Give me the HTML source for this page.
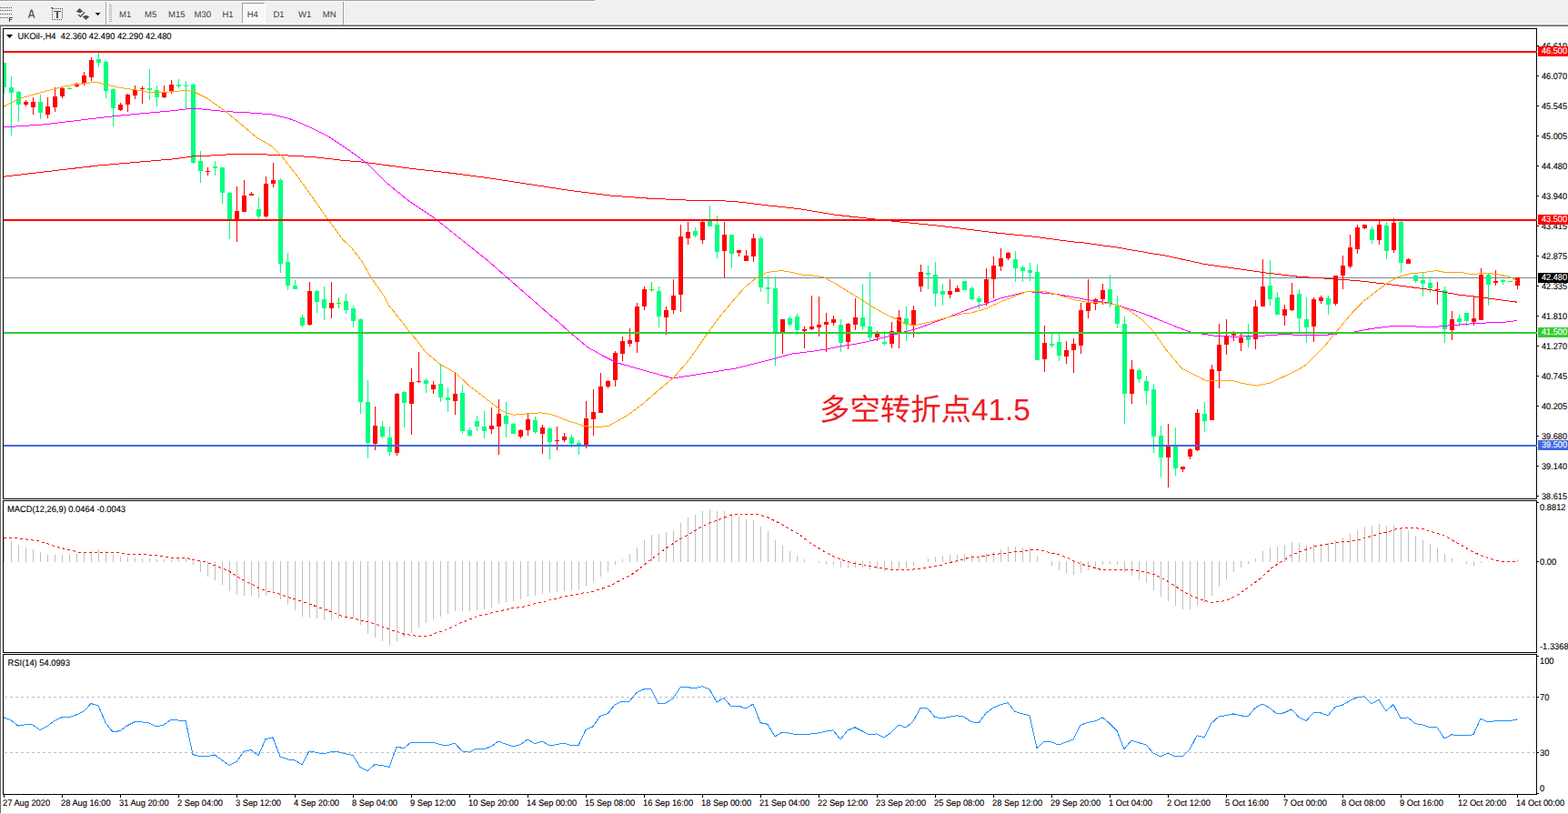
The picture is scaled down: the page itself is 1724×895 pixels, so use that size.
<!DOCTYPE html><html><head><meta charset="utf-8"><title>UKOil H4</title><style>html,body{margin:0;padding:0;background:#fff;font-family:"Liberation Sans",sans-serif}body{width:1724px;height:895px;overflow:hidden}</style></head><body><svg width="1724" height="895" viewBox="0 0 1724 895" shape-rendering="crispEdges" text-rendering="geometricPrecision" font-family="'Liberation Sans', sans-serif" style="display:block"><rect x="0" y="0" width="1724" height="895" fill="#ffffff"/>
<rect x="0" y="0" width="1724" height="27" fill="#f0f0f0"/>
<rect x="0" y="0" width="654" height="1" fill="#a0a0a0"/>
<rect x="0" y="1" width="655" height="1" fill="#ffffff"/>
<rect x="0" y="26" width="1724" height="1" fill="#f6f6f6"/>
<rect x="0" y="27" width="1724" height="1" fill="#a0a0a0"/>
<rect x="0" y="28" width="1724" height="1" fill="#696969"/>
<rect x="0" y="28" width="1" height="866" fill="#696969"/>
<rect x="0" y="894" width="1724" height="1" fill="#e8e8e8"/>
<rect x="0" y="8" width="1" height="1" fill="#4a4a4a"/>
<rect x="2" y="8" width="1" height="1" fill="#4a4a4a"/>
<rect x="4" y="8" width="1" height="1" fill="#4a4a4a"/>
<rect x="6" y="8" width="1" height="1" fill="#4a4a4a"/>
<rect x="8" y="8" width="1" height="1" fill="#4a4a4a"/>
<rect x="10" y="8" width="1" height="1" fill="#4a4a4a"/>
<rect x="12" y="8" width="1" height="1" fill="#4a4a4a"/>
<rect x="0" y="11" width="1" height="1" fill="#4a4a4a"/>
<rect x="2" y="11" width="1" height="1" fill="#4a4a4a"/>
<rect x="4" y="11" width="1" height="1" fill="#4a4a4a"/>
<rect x="6" y="11" width="1" height="1" fill="#4a4a4a"/>
<rect x="8" y="11" width="1" height="1" fill="#4a4a4a"/>
<rect x="10" y="11" width="1" height="1" fill="#4a4a4a"/>
<rect x="12" y="11" width="1" height="1" fill="#4a4a4a"/>
<rect x="0" y="15" width="1" height="1" fill="#4a4a4a"/>
<rect x="2" y="15" width="1" height="1" fill="#4a4a4a"/>
<rect x="4" y="15" width="1" height="1" fill="#4a4a4a"/>
<rect x="6" y="15" width="1" height="1" fill="#4a4a4a"/>
<rect x="8" y="15" width="1" height="1" fill="#4a4a4a"/>
<rect x="10" y="15" width="1" height="1" fill="#4a4a4a"/>
<rect x="12" y="15" width="1" height="1" fill="#4a4a4a"/>
<rect x="0" y="19" width="1" height="1" fill="#4a4a4a"/>
<rect x="2" y="19" width="1" height="1" fill="#4a4a4a"/>
<rect x="4" y="19" width="1" height="1" fill="#4a4a4a"/>
<rect x="6" y="19" width="1" height="1" fill="#4a4a4a"/>
<rect x="8" y="19" width="1" height="1" fill="#4a4a4a"/>
<rect x="10" y="19" width="1" height="5" fill="#4a4a4a"/>
<rect x="10" y="19" width="4" height="1" fill="#4a4a4a"/>
<rect x="10" y="21" width="3" height="1" fill="#4a4a4a"/>
<path d="M31.5 19.9 L34.3 11.2 L35.1 11.2 L37.9 19.9 M32.6 17 L36.8 17" fill="none" stroke="#555" stroke-width="1.35" stroke-linejoin="miter" shape-rendering="geometricPrecision"/>
<rect x="60" y="9" width="1" height="1" fill="#4a4a4a"/>
<rect x="62" y="9" width="1" height="1" fill="#4a4a4a"/>
<rect x="64" y="9" width="1" height="1" fill="#4a4a4a"/>
<rect x="66" y="9" width="1" height="1" fill="#4a4a4a"/>
<rect x="68" y="9" width="1" height="1" fill="#4a4a4a"/>
<rect x="57" y="21" width="1" height="1" fill="#4a4a4a"/>
<rect x="59" y="21" width="1" height="1" fill="#4a4a4a"/>
<rect x="61" y="21" width="1" height="1" fill="#4a4a4a"/>
<rect x="63" y="21" width="1" height="1" fill="#4a4a4a"/>
<rect x="65" y="21" width="1" height="1" fill="#4a4a4a"/>
<rect x="67" y="21" width="1" height="1" fill="#4a4a4a"/>
<rect x="57" y="11" width="1" height="1" fill="#4a4a4a"/>
<rect x="68" y="11" width="1" height="1" fill="#4a4a4a"/>
<rect x="57" y="13" width="1" height="1" fill="#4a4a4a"/>
<rect x="68" y="13" width="1" height="1" fill="#4a4a4a"/>
<rect x="57" y="15" width="1" height="1" fill="#4a4a4a"/>
<rect x="68" y="15" width="1" height="1" fill="#4a4a4a"/>
<rect x="57" y="17" width="1" height="1" fill="#4a4a4a"/>
<rect x="68" y="17" width="1" height="1" fill="#4a4a4a"/>
<rect x="57" y="19" width="1" height="1" fill="#4a4a4a"/>
<rect x="68" y="19" width="1" height="1" fill="#4a4a4a"/>
<rect x="56" y="8" width="2" height="1" fill="#4a4a4a"/>
<rect x="57" y="9" width="2" height="1" fill="#4a4a4a"/>
<rect x="59" y="12" width="8" height="1" fill="#505050"/>
<rect x="62" y="12" width="2" height="8" fill="#505050"/>
<path d="M87.5 9 L91.5 13 L89.5 13 L89.5 14 L85.5 14 L85.5 13 L83.5 13 Z" fill="#505050" shape-rendering="geometricPrecision"/>
<path d="M94.5 22 L98.5 18 L96.5 18 L96.5 17 L92.5 17 L92.5 18 L90.5 18 Z" fill="#505050" shape-rendering="geometricPrecision"/>
<path d="M86 16 L88.5 18.3 L93 13.5" fill="none" stroke="#505050" stroke-width="1.3" shape-rendering="geometricPrecision"/>
<rect x="105" y="14" width="5" height="1" fill="#000"/>
<rect x="106" y="15" width="3" height="1" fill="#000"/>
<rect x="107" y="16" width="1" height="1" fill="#000"/>
<rect x="116" y="2" width="1" height="25" fill="#a0a0a0"/>
<rect x="117" y="2" width="1" height="25" fill="#ffffff"/>
<rect x="120" y="5" width="3" height="1" fill="#b4b4b4"/>
<rect x="120" y="7" width="3" height="1" fill="#b4b4b4"/>
<rect x="120" y="9" width="3" height="1" fill="#b4b4b4"/>
<rect x="120" y="11" width="3" height="1" fill="#b4b4b4"/>
<rect x="120" y="13" width="3" height="1" fill="#b4b4b4"/>
<rect x="120" y="15" width="3" height="1" fill="#b4b4b4"/>
<rect x="120" y="17" width="3" height="1" fill="#b4b4b4"/>
<rect x="120" y="19" width="3" height="1" fill="#b4b4b4"/>
<rect x="120" y="21" width="3" height="1" fill="#b4b4b4"/>
<rect x="120" y="23" width="3" height="1" fill="#b4b4b4"/>
<rect x="377" y="2" width="1" height="25" fill="#a0a0a0"/>
<rect x="378" y="2" width="1" height="25" fill="#ffffff"/>
<rect x="266" y="3" width="26" height="22" fill="#f8f8f8"/>
<rect x="266" y="3" width="25" height="1" fill="#a0a0a0"/>
<rect x="266" y="3" width="1" height="22" fill="#a0a0a0"/>
<rect x="291" y="3" width="1" height="23" fill="#ffffff"/>
<rect x="266" y="25" width="26" height="1" fill="#ffffff"/>
<text transform="translate(131,19) scale(1.0000,1)" fill="#3c3c3c" stroke="#3c3c3c" stroke-width="0" font-size="9.5" text-anchor="start" >M1</text>
<text transform="translate(159,19) scale(1.0000,1)" fill="#3c3c3c" stroke="#3c3c3c" stroke-width="0" font-size="9.5" text-anchor="start" >M5</text>
<text transform="translate(185,19) scale(1.0000,1)" fill="#3c3c3c" stroke="#3c3c3c" stroke-width="0" font-size="9.5" text-anchor="start" >M15</text>
<text transform="translate(213.5,19) scale(1.0000,1)" fill="#3c3c3c" stroke="#3c3c3c" stroke-width="0" font-size="9.5" text-anchor="start" >M30</text>
<text transform="translate(244.5,19) scale(1.0000,1)" fill="#3c3c3c" stroke="#3c3c3c" stroke-width="0" font-size="9.5" text-anchor="start" >H1</text>
<text transform="translate(271.7,19) scale(1.0000,1)" fill="#3c3c3c" stroke="#3c3c3c" stroke-width="0" font-size="9.5" text-anchor="start" >H4</text>
<text transform="translate(300.5,19) scale(1.0000,1)" fill="#3c3c3c" stroke="#3c3c3c" stroke-width="0" font-size="9.5" text-anchor="start" >D1</text>
<text transform="translate(328,19) scale(1.0000,1)" fill="#3c3c3c" stroke="#3c3c3c" stroke-width="0" font-size="9.5" text-anchor="start" >W1</text>
<text transform="translate(354.8,19) scale(1.0000,1)" fill="#3c3c3c" stroke="#3c3c3c" stroke-width="0" font-size="9.5" text-anchor="start" >MN</text>
<clipPath id="cm"><rect x="4" y="32" width="1685" height="516"/></clipPath>
<g clip-path="url(#cm)">
<rect x="4" y="305" width="1686" height="1" fill="#778899"/>
<rect x="4" y="69" width="1" height="34" fill="#00ff7f"/>
<rect x="2" y="69" width="5" height="27" fill="#00ff7f"/>
<rect x="12" y="84" width="1" height="65" fill="#00ff7f"/>
<rect x="10" y="96" width="5" height="6" fill="#00ff7f"/>
<rect x="20" y="100" width="1" height="34" fill="#00ff7f"/>
<rect x="18" y="101" width="5" height="14" fill="#00ff7f"/>
<rect x="28" y="110" width="1" height="7" fill="#ff0000"/>
<rect x="26" y="112" width="5" height="3" fill="#ff0000"/>
<rect x="36" y="107" width="1" height="19" fill="#ff0000"/>
<rect x="34" y="112" width="5" height="6" fill="#ff0000"/>
<rect x="44" y="104" width="1" height="27" fill="#00ff7f"/>
<rect x="42" y="112" width="5" height="12" fill="#00ff7f"/>
<rect x="52" y="107" width="1" height="23" fill="#ff0000"/>
<rect x="50" y="117" width="5" height="9" fill="#ff0000"/>
<rect x="60" y="96" width="1" height="27" fill="#ff0000"/>
<rect x="58" y="106" width="5" height="12" fill="#ff0000"/>
<rect x="68" y="96" width="1" height="12" fill="#ff0000"/>
<rect x="66" y="97" width="5" height="9" fill="#ff0000"/>
<rect x="76" y="96" width="1" height="2" fill="#00ff00"/>
<rect x="74" y="97" width="5" height="1" fill="#00ff00"/>
<rect x="84" y="91" width="1" height="5" fill="#ff0000"/>
<rect x="82" y="92" width="5" height="3" fill="#ff0000"/>
<rect x="92" y="79" width="1" height="15" fill="#ff0000"/>
<rect x="90" y="83" width="5" height="9" fill="#ff0000"/>
<rect x="100" y="63" width="1" height="26" fill="#ff0000"/>
<rect x="98" y="66" width="5" height="19" fill="#ff0000"/>
<rect x="108" y="58" width="1" height="16" fill="#00ff7f"/>
<rect x="106" y="65" width="5" height="4" fill="#00ff7f"/>
<rect x="116" y="67" width="1" height="41" fill="#00ff7f"/>
<rect x="114" y="68" width="5" height="32" fill="#00ff7f"/>
<rect x="124" y="97" width="1" height="42" fill="#00ff7f"/>
<rect x="122" y="98" width="5" height="21" fill="#00ff7f"/>
<rect x="132" y="113" width="1" height="9" fill="#ff0000"/>
<rect x="130" y="115" width="5" height="6" fill="#ff0000"/>
<rect x="140" y="103" width="1" height="20" fill="#ff0000"/>
<rect x="138" y="104" width="5" height="11" fill="#ff0000"/>
<rect x="148" y="94" width="1" height="15" fill="#ff0000"/>
<rect x="146" y="99" width="5" height="6" fill="#ff0000"/>
<rect x="156" y="95" width="1" height="19" fill="#ff0000"/>
<rect x="154" y="97" width="5" height="1" fill="#ff0000"/>
<rect x="164" y="76" width="1" height="34" fill="#00ff7f"/>
<rect x="162" y="97" width="5" height="2" fill="#00ff7f"/>
<rect x="172" y="94" width="1" height="23" fill="#00ff7f"/>
<rect x="170" y="99" width="5" height="8" fill="#00ff7f"/>
<rect x="180" y="94" width="1" height="14" fill="#ff0000"/>
<rect x="178" y="102" width="5" height="5" fill="#ff0000"/>
<rect x="188" y="88" width="1" height="15" fill="#ff0000"/>
<rect x="186" y="93" width="5" height="8" fill="#ff0000"/>
<rect x="196" y="87" width="1" height="10" fill="#00ff7f"/>
<rect x="194" y="93" width="5" height="2" fill="#00ff7f"/>
<rect x="204" y="89" width="1" height="30" fill="#00ff7f"/>
<rect x="202" y="94" width="5" height="1" fill="#00ff7f"/>
<rect x="212" y="92" width="1" height="88" fill="#00ff7f"/>
<rect x="210" y="93" width="5" height="86" fill="#00ff7f"/>
<rect x="220" y="166" width="1" height="35" fill="#00ff7f"/>
<rect x="218" y="177" width="5" height="11" fill="#00ff7f"/>
<rect x="228" y="184" width="1" height="9" fill="#ff0000"/>
<rect x="226" y="188" width="5" height="1" fill="#ff0000"/>
<rect x="236" y="177" width="1" height="16" fill="#00ff7f"/>
<rect x="234" y="183" width="5" height="2" fill="#00ff7f"/>
<rect x="244" y="184" width="1" height="40" fill="#00ff7f"/>
<rect x="242" y="184" width="5" height="28" fill="#00ff7f"/>
<rect x="252" y="211" width="1" height="52" fill="#00ff7f"/>
<rect x="250" y="212" width="5" height="29" fill="#00ff7f"/>
<rect x="260" y="205" width="1" height="61" fill="#ff0000"/>
<rect x="258" y="232" width="5" height="10" fill="#ff0000"/>
<rect x="268" y="198" width="1" height="35" fill="#ff0000"/>
<rect x="266" y="215" width="5" height="18" fill="#ff0000"/>
<rect x="276" y="211" width="1" height="4" fill="#ff0000"/>
<rect x="274" y="213" width="5" height="2" fill="#ff0000"/>
<rect x="284" y="217" width="1" height="24" fill="#00ff7f"/>
<rect x="282" y="230" width="5" height="8" fill="#00ff7f"/>
<rect x="292" y="194" width="1" height="45" fill="#ff0000"/>
<rect x="290" y="202" width="5" height="36" fill="#ff0000"/>
<rect x="300" y="179" width="1" height="27" fill="#ff0000"/>
<rect x="298" y="198" width="5" height="4" fill="#ff0000"/>
<rect x="308" y="196" width="1" height="104" fill="#00ff7f"/>
<rect x="306" y="198" width="5" height="92" fill="#00ff7f"/>
<rect x="316" y="278" width="1" height="41" fill="#00ff7f"/>
<rect x="314" y="288" width="5" height="26" fill="#00ff7f"/>
<rect x="324" y="308" width="1" height="10" fill="#00ff7f"/>
<rect x="322" y="314" width="5" height="4" fill="#00ff7f"/>
<rect x="332" y="346" width="1" height="14" fill="#00ff7f"/>
<rect x="330" y="349" width="5" height="9" fill="#00ff7f"/>
<rect x="340" y="310" width="1" height="48" fill="#ff0000"/>
<rect x="338" y="320" width="5" height="37" fill="#ff0000"/>
<rect x="348" y="319" width="1" height="25" fill="#00ff7f"/>
<rect x="346" y="320" width="5" height="12" fill="#00ff7f"/>
<rect x="356" y="315" width="1" height="37" fill="#00ff7f"/>
<rect x="354" y="329" width="5" height="10" fill="#00ff7f"/>
<rect x="364" y="310" width="1" height="40" fill="#ff0000"/>
<rect x="362" y="333" width="5" height="6" fill="#ff0000"/>
<rect x="372" y="327" width="1" height="12" fill="#00ff00"/>
<rect x="370" y="333" width="5" height="1" fill="#00ff00"/>
<rect x="380" y="323" width="1" height="22" fill="#00ff7f"/>
<rect x="378" y="331" width="5" height="10" fill="#00ff7f"/>
<rect x="388" y="336" width="1" height="24" fill="#00ff7f"/>
<rect x="386" y="339" width="5" height="14" fill="#00ff7f"/>
<rect x="396" y="350" width="1" height="105" fill="#00ff7f"/>
<rect x="394" y="351" width="5" height="91" fill="#00ff7f"/>
<rect x="404" y="418" width="1" height="86" fill="#00ff7f"/>
<rect x="402" y="442" width="5" height="45" fill="#00ff7f"/>
<rect x="412" y="447" width="1" height="48" fill="#ff0000"/>
<rect x="410" y="468" width="5" height="20" fill="#ff0000"/>
<rect x="420" y="463" width="1" height="19" fill="#00ff7f"/>
<rect x="418" y="469" width="5" height="11" fill="#00ff7f"/>
<rect x="428" y="469" width="1" height="32" fill="#00ff7f"/>
<rect x="426" y="481" width="5" height="16" fill="#00ff7f"/>
<rect x="436" y="432" width="1" height="69" fill="#ff0000"/>
<rect x="434" y="433" width="5" height="65" fill="#ff0000"/>
<rect x="444" y="430" width="1" height="40" fill="#00ff7f"/>
<rect x="442" y="431" width="5" height="12" fill="#00ff7f"/>
<rect x="452" y="405" width="1" height="73" fill="#ff0000"/>
<rect x="450" y="420" width="5" height="24" fill="#ff0000"/>
<rect x="460" y="387" width="1" height="34" fill="#ff0000"/>
<rect x="458" y="419" width="5" height="1" fill="#ff0000"/>
<rect x="468" y="416" width="1" height="16" fill="#00ff7f"/>
<rect x="466" y="418" width="5" height="4" fill="#00ff7f"/>
<rect x="476" y="419" width="1" height="14" fill="#ff0000"/>
<rect x="474" y="423" width="5" height="5" fill="#ff0000"/>
<rect x="484" y="401" width="1" height="41" fill="#00ff7f"/>
<rect x="482" y="422" width="5" height="15" fill="#00ff7f"/>
<rect x="492" y="426" width="1" height="27" fill="#00ff7f"/>
<rect x="490" y="437" width="5" height="3" fill="#00ff7f"/>
<rect x="500" y="409" width="1" height="47" fill="#ff0000"/>
<rect x="498" y="433" width="5" height="8" fill="#ff0000"/>
<rect x="508" y="424" width="1" height="53" fill="#00ff7f"/>
<rect x="506" y="432" width="5" height="42" fill="#00ff7f"/>
<rect x="516" y="470" width="1" height="10" fill="#00ff7f"/>
<rect x="514" y="473" width="5" height="6" fill="#00ff7f"/>
<rect x="524" y="457" width="1" height="17" fill="#00ff7f"/>
<rect x="522" y="463" width="5" height="6" fill="#00ff7f"/>
<rect x="532" y="452" width="1" height="30" fill="#00ff7f"/>
<rect x="530" y="469" width="5" height="5" fill="#00ff7f"/>
<rect x="540" y="448" width="1" height="29" fill="#ff0000"/>
<rect x="538" y="468" width="5" height="4" fill="#ff0000"/>
<rect x="548" y="439" width="1" height="61" fill="#ff0000"/>
<rect x="546" y="455" width="5" height="14" fill="#ff0000"/>
<rect x="556" y="442" width="1" height="39" fill="#00ff7f"/>
<rect x="554" y="457" width="5" height="9" fill="#00ff7f"/>
<rect x="564" y="465" width="1" height="12" fill="#00ff7f"/>
<rect x="562" y="466" width="5" height="11" fill="#00ff7f"/>
<rect x="572" y="472" width="1" height="10" fill="#ff0000"/>
<rect x="570" y="473" width="5" height="7" fill="#ff0000"/>
<rect x="580" y="455" width="1" height="24" fill="#ff0000"/>
<rect x="578" y="461" width="5" height="12" fill="#ff0000"/>
<rect x="588" y="458" width="1" height="19" fill="#00ff7f"/>
<rect x="586" y="462" width="5" height="13" fill="#00ff7f"/>
<rect x="596" y="467" width="1" height="32" fill="#ff0000"/>
<rect x="594" y="470" width="5" height="7" fill="#ff0000"/>
<rect x="604" y="470" width="1" height="35" fill="#00ff7f"/>
<rect x="602" y="471" width="5" height="15" fill="#00ff7f"/>
<rect x="612" y="469" width="1" height="26" fill="#ff0000"/>
<rect x="610" y="484" width="5" height="1" fill="#ff0000"/>
<rect x="620" y="476" width="1" height="10" fill="#ff0000"/>
<rect x="618" y="480" width="5" height="4" fill="#ff0000"/>
<rect x="628" y="478" width="1" height="14" fill="#00ff7f"/>
<rect x="626" y="481" width="5" height="7" fill="#00ff7f"/>
<rect x="636" y="484" width="1" height="16" fill="#00ff7f"/>
<rect x="634" y="487" width="5" height="2" fill="#00ff7f"/>
<rect x="644" y="441" width="1" height="52" fill="#ff0000"/>
<rect x="642" y="460" width="5" height="30" fill="#ff0000"/>
<rect x="652" y="428" width="1" height="51" fill="#ff0000"/>
<rect x="650" y="453" width="5" height="8" fill="#ff0000"/>
<rect x="660" y="410" width="1" height="44" fill="#ff0000"/>
<rect x="658" y="425" width="5" height="29" fill="#ff0000"/>
<rect x="668" y="418" width="1" height="9" fill="#ff0000"/>
<rect x="666" y="419" width="5" height="6" fill="#ff0000"/>
<rect x="676" y="386" width="1" height="39" fill="#ff0000"/>
<rect x="674" y="388" width="5" height="30" fill="#ff0000"/>
<rect x="684" y="370" width="1" height="27" fill="#ff0000"/>
<rect x="682" y="375" width="5" height="14" fill="#ff0000"/>
<rect x="692" y="361" width="1" height="20" fill="#ff0000"/>
<rect x="690" y="374" width="5" height="4" fill="#ff0000"/>
<rect x="700" y="333" width="1" height="55" fill="#ff0000"/>
<rect x="698" y="337" width="5" height="39" fill="#ff0000"/>
<rect x="708" y="315" width="1" height="26" fill="#ff0000"/>
<rect x="706" y="318" width="5" height="19" fill="#ff0000"/>
<rect x="716" y="310" width="1" height="11" fill="#00ff00"/>
<rect x="714" y="318" width="5" height="1" fill="#00ff00"/>
<rect x="724" y="315" width="1" height="45" fill="#00ff7f"/>
<rect x="722" y="320" width="5" height="28" fill="#00ff7f"/>
<rect x="732" y="337" width="1" height="31" fill="#ff0000"/>
<rect x="730" y="341" width="5" height="8" fill="#ff0000"/>
<rect x="740" y="307" width="1" height="38" fill="#ff0000"/>
<rect x="738" y="325" width="5" height="16" fill="#ff0000"/>
<rect x="748" y="247" width="1" height="96" fill="#ff0000"/>
<rect x="746" y="260" width="5" height="64" fill="#ff0000"/>
<rect x="756" y="244" width="1" height="25" fill="#ff0000"/>
<rect x="754" y="255" width="5" height="7" fill="#ff0000"/>
<rect x="764" y="250" width="1" height="11" fill="#00ff7f"/>
<rect x="762" y="254" width="5" height="5" fill="#00ff7f"/>
<rect x="772" y="243" width="1" height="25" fill="#ff0000"/>
<rect x="770" y="244" width="5" height="20" fill="#ff0000"/>
<rect x="780" y="226" width="1" height="23" fill="#00ff7f"/>
<rect x="778" y="241" width="5" height="8" fill="#00ff7f"/>
<rect x="788" y="237" width="1" height="47" fill="#00ff7f"/>
<rect x="786" y="247" width="5" height="30" fill="#00ff7f"/>
<rect x="796" y="244" width="1" height="61" fill="#ff0000"/>
<rect x="794" y="258" width="5" height="18" fill="#ff0000"/>
<rect x="804" y="258" width="1" height="37" fill="#00ff7f"/>
<rect x="802" y="258" width="5" height="21" fill="#00ff7f"/>
<rect x="812" y="275" width="1" height="7" fill="#ff0000"/>
<rect x="810" y="275" width="5" height="3" fill="#ff0000"/>
<rect x="820" y="275" width="1" height="12" fill="#ff0000"/>
<rect x="818" y="281" width="5" height="6" fill="#ff0000"/>
<rect x="828" y="257" width="1" height="31" fill="#ff0000"/>
<rect x="826" y="262" width="5" height="20" fill="#ff0000"/>
<rect x="836" y="260" width="1" height="61" fill="#00ff7f"/>
<rect x="834" y="262" width="5" height="54" fill="#00ff7f"/>
<rect x="844" y="303" width="1" height="31" fill="#00ff7f"/>
<rect x="842" y="316" width="5" height="2" fill="#00ff7f"/>
<rect x="852" y="304" width="1" height="98" fill="#00ff7f"/>
<rect x="850" y="317" width="5" height="48" fill="#00ff7f"/>
<rect x="860" y="351" width="1" height="38" fill="#ff0000"/>
<rect x="858" y="351" width="5" height="14" fill="#ff0000"/>
<rect x="868" y="348" width="1" height="11" fill="#00ff7f"/>
<rect x="866" y="350" width="5" height="7" fill="#00ff7f"/>
<rect x="876" y="345" width="1" height="23" fill="#00ff7f"/>
<rect x="874" y="348" width="5" height="15" fill="#00ff7f"/>
<rect x="884" y="359" width="1" height="24" fill="#ff0000"/>
<rect x="882" y="362" width="5" height="2" fill="#ff0000"/>
<rect x="892" y="325" width="1" height="38" fill="#ff0000"/>
<rect x="890" y="359" width="5" height="3" fill="#ff0000"/>
<rect x="900" y="326" width="1" height="44" fill="#ff0000"/>
<rect x="898" y="357" width="5" height="3" fill="#ff0000"/>
<rect x="908" y="344" width="1" height="43" fill="#ff0000"/>
<rect x="906" y="354" width="5" height="3" fill="#ff0000"/>
<rect x="916" y="347" width="1" height="11" fill="#ff0000"/>
<rect x="914" y="351" width="5" height="4" fill="#ff0000"/>
<rect x="924" y="351" width="1" height="36" fill="#00ff7f"/>
<rect x="922" y="357" width="5" height="20" fill="#00ff7f"/>
<rect x="932" y="355" width="1" height="29" fill="#ff0000"/>
<rect x="930" y="356" width="5" height="20" fill="#ff0000"/>
<rect x="940" y="328" width="1" height="35" fill="#ff0000"/>
<rect x="938" y="349" width="5" height="8" fill="#ff0000"/>
<rect x="948" y="312" width="1" height="51" fill="#00ff7f"/>
<rect x="946" y="349" width="5" height="10" fill="#00ff7f"/>
<rect x="956" y="299" width="1" height="75" fill="#00ff7f"/>
<rect x="954" y="359" width="5" height="12" fill="#00ff7f"/>
<rect x="964" y="364" width="1" height="11" fill="#ff0000"/>
<rect x="962" y="367" width="5" height="4" fill="#ff0000"/>
<rect x="972" y="364" width="1" height="16" fill="#00ff7f"/>
<rect x="970" y="376" width="5" height="2" fill="#00ff7f"/>
<rect x="980" y="354" width="1" height="29" fill="#ff0000"/>
<rect x="978" y="364" width="5" height="14" fill="#ff0000"/>
<rect x="988" y="341" width="1" height="42" fill="#ff0000"/>
<rect x="986" y="349" width="5" height="17" fill="#ff0000"/>
<rect x="996" y="337" width="1" height="38" fill="#00ff7f"/>
<rect x="994" y="350" width="5" height="6" fill="#00ff7f"/>
<rect x="1004" y="336" width="1" height="35" fill="#ff0000"/>
<rect x="1002" y="341" width="5" height="16" fill="#ff0000"/>
<rect x="1012" y="291" width="1" height="30" fill="#ff0000"/>
<rect x="1010" y="299" width="5" height="16" fill="#ff0000"/>
<rect x="1020" y="292" width="1" height="26" fill="#00ff7f"/>
<rect x="1018" y="300" width="5" height="2" fill="#00ff7f"/>
<rect x="1028" y="288" width="1" height="49" fill="#00ff7f"/>
<rect x="1026" y="302" width="5" height="21" fill="#00ff7f"/>
<rect x="1036" y="312" width="1" height="24" fill="#00ff7f"/>
<rect x="1034" y="320" width="5" height="4" fill="#00ff7f"/>
<rect x="1044" y="307" width="1" height="21" fill="#ff0000"/>
<rect x="1042" y="320" width="5" height="4" fill="#ff0000"/>
<rect x="1052" y="314" width="1" height="7" fill="#ff0000"/>
<rect x="1050" y="317" width="5" height="4" fill="#ff0000"/>
<rect x="1060" y="309" width="1" height="10" fill="#00ff7f"/>
<rect x="1058" y="309" width="5" height="10" fill="#00ff7f"/>
<rect x="1068" y="315" width="1" height="15" fill="#00ff7f"/>
<rect x="1066" y="317" width="5" height="12" fill="#00ff7f"/>
<rect x="1076" y="325" width="1" height="15" fill="#00ff7f"/>
<rect x="1074" y="328" width="5" height="4" fill="#00ff7f"/>
<rect x="1084" y="295" width="1" height="41" fill="#ff0000"/>
<rect x="1082" y="307" width="5" height="26" fill="#ff0000"/>
<rect x="1092" y="282" width="1" height="46" fill="#ff0000"/>
<rect x="1090" y="292" width="5" height="15" fill="#ff0000"/>
<rect x="1100" y="273" width="1" height="25" fill="#ff0000"/>
<rect x="1098" y="284" width="5" height="9" fill="#ff0000"/>
<rect x="1108" y="277" width="1" height="9" fill="#ff0000"/>
<rect x="1106" y="278" width="5" height="6" fill="#ff0000"/>
<rect x="1116" y="276" width="1" height="34" fill="#00ff7f"/>
<rect x="1114" y="285" width="5" height="10" fill="#00ff7f"/>
<rect x="1124" y="292" width="1" height="18" fill="#00ff7f"/>
<rect x="1122" y="294" width="5" height="4" fill="#00ff7f"/>
<rect x="1132" y="289" width="1" height="20" fill="#00ff7f"/>
<rect x="1130" y="297" width="5" height="3" fill="#00ff7f"/>
<rect x="1140" y="291" width="1" height="105" fill="#00ff7f"/>
<rect x="1138" y="299" width="5" height="97" fill="#00ff7f"/>
<rect x="1148" y="358" width="1" height="51" fill="#ff0000"/>
<rect x="1146" y="377" width="5" height="18" fill="#ff0000"/>
<rect x="1156" y="367" width="1" height="15" fill="#00ff7f"/>
<rect x="1154" y="378" width="5" height="2" fill="#00ff7f"/>
<rect x="1164" y="367" width="1" height="30" fill="#00ff7f"/>
<rect x="1162" y="376" width="5" height="15" fill="#00ff7f"/>
<rect x="1172" y="375" width="1" height="25" fill="#ff0000"/>
<rect x="1170" y="385" width="5" height="7" fill="#ff0000"/>
<rect x="1180" y="372" width="1" height="38" fill="#ff0000"/>
<rect x="1178" y="378" width="5" height="7" fill="#ff0000"/>
<rect x="1188" y="333" width="1" height="56" fill="#ff0000"/>
<rect x="1186" y="341" width="5" height="39" fill="#ff0000"/>
<rect x="1196" y="307" width="1" height="43" fill="#ff0000"/>
<rect x="1194" y="332" width="5" height="10" fill="#ff0000"/>
<rect x="1204" y="328" width="1" height="13" fill="#ff0000"/>
<rect x="1202" y="329" width="5" height="5" fill="#ff0000"/>
<rect x="1212" y="312" width="1" height="23" fill="#ff0000"/>
<rect x="1210" y="319" width="5" height="10" fill="#ff0000"/>
<rect x="1220" y="302" width="1" height="36" fill="#00ff7f"/>
<rect x="1218" y="318" width="5" height="15" fill="#00ff7f"/>
<rect x="1228" y="325" width="1" height="36" fill="#00ff7f"/>
<rect x="1226" y="336" width="5" height="20" fill="#00ff7f"/>
<rect x="1236" y="348" width="1" height="118" fill="#00ff7f"/>
<rect x="1234" y="356" width="5" height="77" fill="#00ff7f"/>
<rect x="1244" y="396" width="1" height="48" fill="#ff0000"/>
<rect x="1242" y="406" width="5" height="27" fill="#ff0000"/>
<rect x="1252" y="405" width="1" height="16" fill="#00ff7f"/>
<rect x="1250" y="407" width="5" height="10" fill="#00ff7f"/>
<rect x="1260" y="413" width="1" height="32" fill="#00ff7f"/>
<rect x="1258" y="419" width="5" height="11" fill="#00ff7f"/>
<rect x="1268" y="422" width="1" height="76" fill="#00ff7f"/>
<rect x="1266" y="428" width="5" height="52" fill="#00ff7f"/>
<rect x="1276" y="468" width="1" height="57" fill="#00ff7f"/>
<rect x="1274" y="479" width="5" height="24" fill="#00ff7f"/>
<rect x="1284" y="466" width="1" height="70" fill="#ff0000"/>
<rect x="1282" y="489" width="5" height="14" fill="#ff0000"/>
<rect x="1292" y="470" width="1" height="53" fill="#00ff7f"/>
<rect x="1290" y="489" width="5" height="26" fill="#00ff7f"/>
<rect x="1300" y="513" width="1" height="6" fill="#ff0000"/>
<rect x="1298" y="513" width="5" height="3" fill="#ff0000"/>
<rect x="1308" y="493" width="1" height="12" fill="#ff0000"/>
<rect x="1306" y="494" width="5" height="8" fill="#ff0000"/>
<rect x="1316" y="450" width="1" height="46" fill="#ff0000"/>
<rect x="1314" y="454" width="5" height="41" fill="#ff0000"/>
<rect x="1324" y="442" width="1" height="33" fill="#00ff7f"/>
<rect x="1322" y="455" width="5" height="8" fill="#00ff7f"/>
<rect x="1332" y="401" width="1" height="61" fill="#ff0000"/>
<rect x="1330" y="406" width="5" height="56" fill="#ff0000"/>
<rect x="1340" y="356" width="1" height="71" fill="#ff0000"/>
<rect x="1338" y="379" width="5" height="29" fill="#ff0000"/>
<rect x="1348" y="351" width="1" height="39" fill="#ff0000"/>
<rect x="1346" y="370" width="5" height="9" fill="#ff0000"/>
<rect x="1356" y="364" width="1" height="11" fill="#ff0000"/>
<rect x="1354" y="367" width="5" height="2" fill="#ff0000"/>
<rect x="1364" y="367" width="1" height="19" fill="#ff0000"/>
<rect x="1362" y="371" width="5" height="6" fill="#ff0000"/>
<rect x="1372" y="356" width="1" height="26" fill="#00ff7f"/>
<rect x="1370" y="369" width="5" height="5" fill="#00ff7f"/>
<rect x="1380" y="330" width="1" height="54" fill="#ff0000"/>
<rect x="1378" y="337" width="5" height="36" fill="#ff0000"/>
<rect x="1388" y="285" width="1" height="52" fill="#ff0000"/>
<rect x="1386" y="315" width="5" height="22" fill="#ff0000"/>
<rect x="1396" y="286" width="1" height="50" fill="#00ff7f"/>
<rect x="1394" y="314" width="5" height="15" fill="#00ff7f"/>
<rect x="1404" y="321" width="1" height="25" fill="#00ff7f"/>
<rect x="1402" y="327" width="5" height="19" fill="#00ff7f"/>
<rect x="1412" y="335" width="1" height="23" fill="#ff0000"/>
<rect x="1410" y="340" width="5" height="7" fill="#ff0000"/>
<rect x="1420" y="311" width="1" height="31" fill="#ff0000"/>
<rect x="1418" y="324" width="5" height="17" fill="#ff0000"/>
<rect x="1428" y="318" width="1" height="48" fill="#00ff7f"/>
<rect x="1426" y="323" width="5" height="27" fill="#00ff7f"/>
<rect x="1436" y="327" width="1" height="50" fill="#00ff7f"/>
<rect x="1434" y="351" width="5" height="9" fill="#00ff7f"/>
<rect x="1444" y="327" width="1" height="49" fill="#ff0000"/>
<rect x="1442" y="329" width="5" height="30" fill="#ff0000"/>
<rect x="1452" y="325" width="1" height="9" fill="#ff0000"/>
<rect x="1450" y="327" width="5" height="4" fill="#ff0000"/>
<rect x="1460" y="325" width="1" height="21" fill="#00ff7f"/>
<rect x="1458" y="328" width="5" height="7" fill="#00ff7f"/>
<rect x="1468" y="303" width="1" height="33" fill="#ff0000"/>
<rect x="1466" y="303" width="5" height="31" fill="#ff0000"/>
<rect x="1476" y="281" width="1" height="37" fill="#ff0000"/>
<rect x="1474" y="292" width="5" height="11" fill="#ff0000"/>
<rect x="1484" y="258" width="1" height="37" fill="#ff0000"/>
<rect x="1482" y="272" width="5" height="21" fill="#ff0000"/>
<rect x="1492" y="247" width="1" height="32" fill="#ff0000"/>
<rect x="1490" y="250" width="5" height="24" fill="#ff0000"/>
<rect x="1500" y="247" width="1" height="5" fill="#ff0000"/>
<rect x="1498" y="247" width="5" height="4" fill="#ff0000"/>
<rect x="1508" y="249" width="1" height="19" fill="#00ff7f"/>
<rect x="1506" y="252" width="5" height="12" fill="#00ff7f"/>
<rect x="1516" y="243" width="1" height="26" fill="#ff0000"/>
<rect x="1514" y="247" width="5" height="17" fill="#ff0000"/>
<rect x="1524" y="244" width="1" height="41" fill="#00ff7f"/>
<rect x="1522" y="248" width="5" height="28" fill="#00ff7f"/>
<rect x="1532" y="240" width="1" height="38" fill="#ff0000"/>
<rect x="1530" y="245" width="5" height="30" fill="#ff0000"/>
<rect x="1540" y="243" width="1" height="57" fill="#00ff7f"/>
<rect x="1538" y="244" width="5" height="45" fill="#00ff7f"/>
<rect x="1548" y="284" width="1" height="6" fill="#ff0000"/>
<rect x="1546" y="285" width="5" height="5" fill="#ff0000"/>
<rect x="1556" y="302" width="1" height="9" fill="#00ff7f"/>
<rect x="1554" y="303" width="5" height="6" fill="#00ff7f"/>
<rect x="1564" y="299" width="1" height="27" fill="#00ff7f"/>
<rect x="1562" y="308" width="5" height="4" fill="#00ff7f"/>
<rect x="1572" y="304" width="1" height="18" fill="#00ff7f"/>
<rect x="1570" y="311" width="5" height="6" fill="#00ff7f"/>
<rect x="1580" y="310" width="1" height="25" fill="#ff0000"/>
<rect x="1578" y="318" width="5" height="1" fill="#ff0000"/>
<rect x="1588" y="315" width="1" height="62" fill="#00ff7f"/>
<rect x="1586" y="319" width="5" height="43" fill="#00ff7f"/>
<rect x="1596" y="342" width="1" height="32" fill="#ff0000"/>
<rect x="1594" y="351" width="5" height="12" fill="#ff0000"/>
<rect x="1604" y="346" width="1" height="13" fill="#00ff7f"/>
<rect x="1602" y="350" width="5" height="4" fill="#00ff7f"/>
<rect x="1612" y="344" width="1" height="14" fill="#00ff7f"/>
<rect x="1610" y="344" width="5" height="9" fill="#00ff7f"/>
<rect x="1620" y="325" width="1" height="33" fill="#ff0000"/>
<rect x="1618" y="350" width="5" height="4" fill="#ff0000"/>
<rect x="1628" y="295" width="1" height="57" fill="#ff0000"/>
<rect x="1626" y="302" width="5" height="50" fill="#ff0000"/>
<rect x="1636" y="301" width="1" height="35" fill="#00ff7f"/>
<rect x="1634" y="302" width="5" height="11" fill="#00ff7f"/>
<rect x="1644" y="297" width="1" height="17" fill="#ff0000"/>
<rect x="1642" y="309" width="5" height="2" fill="#ff0000"/>
<rect x="1652" y="307" width="1" height="6" fill="#00ff7f"/>
<rect x="1650" y="308" width="5" height="2" fill="#00ff7f"/>
<rect x="1660" y="309" width="1" height="1" fill="#00ff00"/>
<rect x="1658" y="309" width="5" height="1" fill="#00ff00"/>
<rect x="1668" y="305" width="1" height="13" fill="#ff0000"/>
<rect x="1666" y="305" width="5" height="9" fill="#ff0000"/>
<polyline points="4.0,194.2 107.3,182.1 190.0,174.9 196.0,174.2 212.4,171.8 232.0,171.0 256.4,169.6 289.0,169.8 320.9,171.2 344.7,172.7 361.0,174.4 377.3,176.4 395.9,177.9 409.0,179.5 452.6,185.4 496.2,190.3 539.8,196.1 583.4,202.8 627.0,209.5 670.5,215.0 714.1,218.2 757.7,220.2 786.7,220.2 815.8,222.3 844.8,226.0 860.0,227.5 880.0,229.8 890.0,231.5 918.1,236.2 976.2,242.6 1034.3,248.4 1092.4,255.7 1136.0,260.1 1179.6,265.9 1188.7,266.5 1229.0,272.2 1268.0,279.0 1281.3,281.0 1320.0,289.5 1324.9,290.6 1356.2,294.9 1392.4,300.0 1428.7,304.4 1464.9,306.5 1498.8,309.2 1533.7,313.5 1568.5,317.9 1603.4,324.0 1638.2,328.3 1668.0,332.2" fill="none" stroke="#ff0000" stroke-width="1" />
<polyline points="4.0,139.8 46.5,137.1 107.3,129.8 124.6,127.8 190.0,121.7 204.5,120.0 219.0,119.7 248.1,122.6 277.1,124.1 300.4,126.1 320.7,131.3 341.0,140.0 361.4,150.2 378.8,161.8 393.3,172.0 403.2,179.5 426.5,202.2 449.7,221.1 478.8,240.6 507.8,263.8 536.9,287.0 560.1,307.4 583.4,327.7 606.6,348.1 610.0,350.6 628.1,366.7 646.2,381.8 662.3,390.9 678.4,398.9 694.5,403.3 710.6,408.0 726.7,412.4 739.8,416.0 758.9,413.0 781.0,409.4 810.0,404.9 830.8,399.5 851.0,394.5 871.1,388.9 892.8,386.3 909.5,383.7 926.3,380.4 943.1,377.9 959.8,374.2 976.6,369.8 993.4,365.3 1010.1,360.8 1026.9,354.4 1043.6,348.5 1060.4,341.8 1068.0,339.0 1084.1,333.9 1100.2,327.9 1116.3,323.9 1130.4,320.5 1148.5,322.3 1164.6,323.9 1180.7,326.9 1196.8,329.9 1212.9,331.9 1227.0,334.9 1241.0,339.6 1255.1,344.0 1268.0,349.0 1295.8,360.3 1310.3,365.5 1330.6,368.4 1338.1,369.7 1356.2,370.1 1381.6,369.7 1406.9,367.9 1457.6,368.3 1488.4,365.2 1507.6,361.4 1528.5,358.8 1551.1,358.8 1575.5,359.7 1596.4,357.6 1617.3,355.9 1638.2,354.8 1655.7,354.1 1668.0,352.4" fill="none" stroke="#ff00ff" stroke-width="1" />
<polyline points="4.0,117.3 20.6,108.6 46.5,101.3 69.7,95.2 84.5,92.9 100.5,90.8 108.5,90.8 116.6,92.9 132.5,96.6 148.5,98.7 164.4,101.6 180.5,101.6 188.5,100.7 199.9,99.9 204.5,99.4 213.2,100.8 227.8,108.1 248.1,122.6 265.5,137.1 282.9,151.7 298.3,160.5 308.7,170.4 327.3,194.2 344.7,218.6 361.0,241.8 377.3,263.9 384.8,270.5 397.6,286.8 408.1,305.4 422.0,325.1 427.8,336.2 439.5,350.7 451.1,365.8 458.6,374.5 468.5,387.8 484.6,400.9 500.7,409.9 516.8,425.0 532.9,437.1 548.0,449.1 556.0,453.6 565.0,456.2 580.1,454.8 595.2,453.8 605.3,455.6 610.0,456.9 626.1,463.3 642.2,468.3 652.3,469.7 668.4,468.7 676.4,464.3 690.5,456.3 706.6,444.2 722.7,430.1 740.8,415.0 754.9,398.9 766.9,382.8 779.0,364.7 791.1,348.6 804.7,332.1 818.8,316.0 830.8,306.0 842.9,299.5 859.0,297.5 871.1,299.5 883.2,302.6 892.8,302.8 906.2,305.0 919.6,312.5 933.0,320.9 948.1,330.1 959.8,337.6 973.2,345.2 986.6,351.4 996.7,356.6 1005.1,357.8 1013.5,356.1 1026.9,353.1 1043.6,348.5 1060.4,344.4 1068.0,344.0 1084.1,339.4 1100.2,331.9 1116.3,325.3 1130.4,320.3 1148.5,320.5 1164.6,324.5 1180.7,329.5 1196.8,332.5 1212.9,332.9 1227.0,334.9 1241.0,341.0 1255.1,351.0 1268.0,364.1 1281.3,383.5 1299.5,405.2 1313.8,412.3 1324.5,418.0 1335.3,418.9 1353.1,418.0 1367.4,421.8 1381.6,424.1 1396.1,421.3 1410.5,414.5 1425.0,407.6 1435.9,401.2 1446.8,390.0 1457.6,379.2 1468.5,365.6 1477.5,354.7 1488.4,342.0 1500.0,330.3 1504.1,327.5 1516.3,317.9 1528.5,309.2 1537.2,304.5 1551.1,300.8 1565.1,299.6 1579.0,297.5 1589.5,299.6 1606.9,299.6 1617.3,301.7 1627.8,300.8 1640.0,300.8 1652.2,302.7 1660.9,304.8 1668.0,309.2" fill="none" stroke="#ffa500" stroke-width="1" />
</g>
<rect x="3" y="31" width="1687" height="1" fill="#000"/>
<rect x="3" y="548" width="1687" height="1" fill="#000"/>
<rect x="3" y="31" width="1" height="518" fill="#000"/>
<rect x="1689" y="31" width="1" height="518" fill="#000"/>
<rect x="3" y="550" width="1687" height="1" fill="#000"/>
<rect x="3" y="717" width="1687" height="1" fill="#000"/>
<rect x="3" y="550" width="1" height="168" fill="#000"/>
<rect x="1689" y="550" width="1" height="168" fill="#000"/>
<rect x="3" y="719" width="1687" height="1" fill="#000"/>
<rect x="3" y="873" width="1687" height="1" fill="#000"/>
<rect x="3" y="719" width="1" height="155" fill="#000"/>
<rect x="1689" y="719" width="1" height="155" fill="#000"/>
<rect x="4" y="56" width="1686" height="2" fill="#ff0000"/>
<rect x="4" y="241" width="1686" height="2" fill="#ff0000"/>
<rect x="4" y="365" width="1686" height="2" fill="#32cd32"/>
<rect x="4" y="489" width="1686" height="2" fill="#4169e1"/>
<path d="M7 38 L14 38 L10.5 42 Z" fill="#000" shape-rendering="geometricPrecision"/>
<text transform="translate(19.6,43) scale(0.9620,1)" fill="#000" stroke="#000" stroke-width="0.12" font-size="9.7" text-anchor="start" >UKOil-,H4&#160; 42.360 42.490 42.290 42.480</text>
<rect x="1690" y="545" width="2" height="1" fill="#000"/>
<text transform="translate(1695,549) scale(0.9470,1)" fill="#000" stroke="#000" stroke-width="0.12" font-size="9.7" text-anchor="start" >38.615</text>
<rect x="1690" y="512" width="2" height="1" fill="#000"/>
<text transform="translate(1695,516) scale(0.9470,1)" fill="#000" stroke="#000" stroke-width="0.12" font-size="9.7" text-anchor="start" >39.140</text>
<rect x="1690" y="479" width="2" height="1" fill="#000"/>
<text transform="translate(1695,483) scale(0.9470,1)" fill="#000" stroke="#000" stroke-width="0.12" font-size="9.7" text-anchor="start" >39.680</text>
<rect x="1690" y="446" width="2" height="1" fill="#000"/>
<text transform="translate(1695,450) scale(0.9470,1)" fill="#000" stroke="#000" stroke-width="0.12" font-size="9.7" text-anchor="start" >40.205</text>
<rect x="1690" y="413" width="2" height="1" fill="#000"/>
<text transform="translate(1695,417) scale(0.9470,1)" fill="#000" stroke="#000" stroke-width="0.12" font-size="9.7" text-anchor="start" >40.745</text>
<rect x="1690" y="380" width="2" height="1" fill="#000"/>
<text transform="translate(1695,384) scale(0.9470,1)" fill="#000" stroke="#000" stroke-width="0.12" font-size="9.7" text-anchor="start" >41.270</text>
<rect x="1690" y="347" width="2" height="1" fill="#000"/>
<text transform="translate(1695,351) scale(0.9470,1)" fill="#000" stroke="#000" stroke-width="0.12" font-size="9.7" text-anchor="start" >41.810</text>
<rect x="1690" y="314" width="2" height="1" fill="#000"/>
<text transform="translate(1695,318) scale(0.9470,1)" fill="#000" stroke="#000" stroke-width="0.12" font-size="9.7" text-anchor="start" >42.335</text>
<rect x="1690" y="281" width="2" height="1" fill="#000"/>
<text transform="translate(1695,285) scale(0.9470,1)" fill="#000" stroke="#000" stroke-width="0.12" font-size="9.7" text-anchor="start" >42.875</text>
<rect x="1690" y="248" width="2" height="1" fill="#000"/>
<text transform="translate(1695,252) scale(0.9470,1)" fill="#000" stroke="#000" stroke-width="0.12" font-size="9.7" text-anchor="start" >43.415</text>
<rect x="1690" y="215" width="2" height="1" fill="#000"/>
<text transform="translate(1695,219) scale(0.9470,1)" fill="#000" stroke="#000" stroke-width="0.12" font-size="9.7" text-anchor="start" >43.940</text>
<rect x="1690" y="182" width="2" height="1" fill="#000"/>
<text transform="translate(1695,186) scale(0.9470,1)" fill="#000" stroke="#000" stroke-width="0.12" font-size="9.7" text-anchor="start" >44.480</text>
<rect x="1690" y="149" width="2" height="1" fill="#000"/>
<text transform="translate(1695,153) scale(0.9470,1)" fill="#000" stroke="#000" stroke-width="0.12" font-size="9.7" text-anchor="start" >45.005</text>
<rect x="1690" y="116" width="2" height="1" fill="#000"/>
<text transform="translate(1695,120) scale(0.9470,1)" fill="#000" stroke="#000" stroke-width="0.12" font-size="9.7" text-anchor="start" >45.545</text>
<rect x="1690" y="83" width="2" height="1" fill="#000"/>
<text transform="translate(1695,87) scale(0.9470,1)" fill="#000" stroke="#000" stroke-width="0.12" font-size="9.7" text-anchor="start" >46.070</text>
<rect x="1690" y="50" width="2" height="1" fill="#000"/>
<text transform="translate(1695,54) scale(0.9470,1)" fill="#000" stroke="#000" stroke-width="0.12" font-size="9.7" text-anchor="start" >46.610</text>
<rect x="1691" y="51" width="33" height="11" fill="#ff0000"/>
<text transform="translate(1695,59) scale(0.9470,1)" fill="#fff" stroke="#fff" stroke-width="0.12" font-size="9.7" text-anchor="start" >46.500</text>
<rect x="1691" y="236" width="33" height="11" fill="#ff0000"/>
<text transform="translate(1695,244) scale(0.9470,1)" fill="#fff" stroke="#fff" stroke-width="0.12" font-size="9.7" text-anchor="start" >43.500</text>
<rect x="1691" y="300" width="33" height="11" fill="#000000"/>
<text transform="translate(1695,308) scale(0.9470,1)" fill="#fff" stroke="#fff" stroke-width="0.12" font-size="9.7" text-anchor="start" >42.480</text>
<rect x="1691" y="360" width="33" height="11" fill="#32cd32"/>
<text transform="translate(1695,368) scale(0.9470,1)" fill="#fff" stroke="#fff" stroke-width="0.12" font-size="9.7" text-anchor="start" >41.500</text>
<rect x="1691" y="484" width="33" height="11" fill="#4169e1"/>
<text transform="translate(1695,492) scale(0.9470,1)" fill="#fff" stroke="#fff" stroke-width="0.12" font-size="9.7" text-anchor="start" >39.500</text>
<text x="901" y="461.5" fill="#ed1c24" font-size="33.4" text-anchor="start" font-family="'Liberation Sans', 'Noto Sans CJK SC', sans-serif" shape-rendering="geometricPrecision">多空转折点41.5</text>
<text transform="translate(8,563) scale(0.9620,1)" fill="#000" stroke="#000" stroke-width="0.12" font-size="9.7" text-anchor="start" >MACD(12,26,9) 0.0464 -0.0043</text>
<rect x="4" y="591" width="1" height="27" fill="#c0c0c0"/>
<rect x="12" y="595" width="1" height="23" fill="#c0c0c0"/>
<rect x="20" y="599" width="1" height="19" fill="#c0c0c0"/>
<rect x="28" y="602" width="1" height="16" fill="#c0c0c0"/>
<rect x="36" y="604" width="1" height="14" fill="#c0c0c0"/>
<rect x="44" y="607" width="1" height="11" fill="#c0c0c0"/>
<rect x="52" y="610" width="1" height="8" fill="#c0c0c0"/>
<rect x="60" y="610" width="1" height="8" fill="#c0c0c0"/>
<rect x="68" y="610" width="1" height="8" fill="#c0c0c0"/>
<rect x="76" y="610" width="1" height="8" fill="#c0c0c0"/>
<rect x="84" y="609" width="1" height="9" fill="#c0c0c0"/>
<rect x="92" y="607" width="1" height="11" fill="#c0c0c0"/>
<rect x="100" y="606" width="1" height="12" fill="#c0c0c0"/>
<rect x="108" y="604" width="1" height="14" fill="#c0c0c0"/>
<rect x="116" y="606" width="1" height="12" fill="#c0c0c0"/>
<rect x="124" y="610" width="1" height="8" fill="#c0c0c0"/>
<rect x="132" y="612" width="1" height="6" fill="#c0c0c0"/>
<rect x="140" y="613" width="1" height="5" fill="#c0c0c0"/>
<rect x="148" y="613" width="1" height="5" fill="#c0c0c0"/>
<rect x="156" y="614" width="1" height="4" fill="#c0c0c0"/>
<rect x="164" y="614" width="1" height="4" fill="#c0c0c0"/>
<rect x="172" y="615" width="1" height="3" fill="#c0c0c0"/>
<rect x="180" y="615" width="1" height="3" fill="#c0c0c0"/>
<rect x="188" y="615" width="1" height="3" fill="#c0c0c0"/>
<rect x="196" y="614" width="1" height="4" fill="#c0c0c0"/>
<rect x="204" y="614" width="1" height="4" fill="#c0c0c0"/>
<rect x="212" y="617" width="1" height="4" fill="#c0c0c0"/>
<rect x="220" y="617" width="1" height="12" fill="#c0c0c0"/>
<rect x="228" y="617" width="1" height="17" fill="#c0c0c0"/>
<rect x="236" y="617" width="1" height="21" fill="#c0c0c0"/>
<rect x="244" y="617" width="1" height="26" fill="#c0c0c0"/>
<rect x="252" y="617" width="1" height="33" fill="#c0c0c0"/>
<rect x="260" y="617" width="1" height="37" fill="#c0c0c0"/>
<rect x="268" y="617" width="1" height="38" fill="#c0c0c0"/>
<rect x="276" y="617" width="1" height="38" fill="#c0c0c0"/>
<rect x="284" y="617" width="1" height="40" fill="#c0c0c0"/>
<rect x="292" y="617" width="1" height="38" fill="#c0c0c0"/>
<rect x="300" y="617" width="1" height="35" fill="#c0c0c0"/>
<rect x="308" y="617" width="1" height="42" fill="#c0c0c0"/>
<rect x="316" y="617" width="1" height="48" fill="#c0c0c0"/>
<rect x="324" y="617" width="1" height="54" fill="#c0c0c0"/>
<rect x="332" y="617" width="1" height="61" fill="#c0c0c0"/>
<rect x="340" y="617" width="1" height="62" fill="#c0c0c0"/>
<rect x="348" y="617" width="1" height="63" fill="#c0c0c0"/>
<rect x="356" y="617" width="1" height="65" fill="#c0c0c0"/>
<rect x="364" y="617" width="1" height="65" fill="#c0c0c0"/>
<rect x="372" y="617" width="1" height="63" fill="#c0c0c0"/>
<rect x="380" y="617" width="1" height="63" fill="#c0c0c0"/>
<rect x="388" y="617" width="1" height="63" fill="#c0c0c0"/>
<rect x="396" y="617" width="1" height="70" fill="#c0c0c0"/>
<rect x="404" y="617" width="1" height="80" fill="#c0c0c0"/>
<rect x="412" y="617" width="1" height="84" fill="#c0c0c0"/>
<rect x="420" y="617" width="1" height="88" fill="#c0c0c0"/>
<rect x="428" y="617" width="1" height="92" fill="#c0c0c0"/>
<rect x="436" y="617" width="1" height="88" fill="#c0c0c0"/>
<rect x="444" y="617" width="1" height="84" fill="#c0c0c0"/>
<rect x="452" y="617" width="1" height="79" fill="#c0c0c0"/>
<rect x="460" y="617" width="1" height="73" fill="#c0c0c0"/>
<rect x="468" y="617" width="1" height="68" fill="#c0c0c0"/>
<rect x="476" y="617" width="1" height="64" fill="#c0c0c0"/>
<rect x="484" y="617" width="1" height="61" fill="#c0c0c0"/>
<rect x="492" y="617" width="1" height="58" fill="#c0c0c0"/>
<rect x="500" y="617" width="1" height="55" fill="#c0c0c0"/>
<rect x="508" y="617" width="1" height="55" fill="#c0c0c0"/>
<rect x="516" y="617" width="1" height="55" fill="#c0c0c0"/>
<rect x="524" y="617" width="1" height="54" fill="#c0c0c0"/>
<rect x="532" y="617" width="1" height="53" fill="#c0c0c0"/>
<rect x="540" y="617" width="1" height="51" fill="#c0c0c0"/>
<rect x="548" y="617" width="1" height="47" fill="#c0c0c0"/>
<rect x="556" y="617" width="1" height="45" fill="#c0c0c0"/>
<rect x="564" y="617" width="1" height="44" fill="#c0c0c0"/>
<rect x="572" y="617" width="1" height="42" fill="#c0c0c0"/>
<rect x="580" y="617" width="1" height="39" fill="#c0c0c0"/>
<rect x="588" y="617" width="1" height="38" fill="#c0c0c0"/>
<rect x="596" y="617" width="1" height="36" fill="#c0c0c0"/>
<rect x="604" y="617" width="1" height="35" fill="#c0c0c0"/>
<rect x="612" y="617" width="1" height="34" fill="#c0c0c0"/>
<rect x="620" y="617" width="1" height="33" fill="#c0c0c0"/>
<rect x="628" y="617" width="1" height="32" fill="#c0c0c0"/>
<rect x="636" y="617" width="1" height="31" fill="#c0c0c0"/>
<rect x="644" y="617" width="1" height="27" fill="#c0c0c0"/>
<rect x="652" y="617" width="1" height="23" fill="#c0c0c0"/>
<rect x="660" y="617" width="1" height="17" fill="#c0c0c0"/>
<rect x="668" y="617" width="1" height="12" fill="#c0c0c0"/>
<rect x="676" y="617" width="1" height="4" fill="#c0c0c0"/>
<rect x="684" y="615" width="1" height="3" fill="#c0c0c0"/>
<rect x="692" y="609" width="1" height="9" fill="#c0c0c0"/>
<rect x="700" y="602" width="1" height="16" fill="#c0c0c0"/>
<rect x="708" y="594" width="1" height="24" fill="#c0c0c0"/>
<rect x="716" y="588" width="1" height="30" fill="#c0c0c0"/>
<rect x="724" y="587" width="1" height="31" fill="#c0c0c0"/>
<rect x="732" y="585" width="1" height="33" fill="#c0c0c0"/>
<rect x="740" y="583" width="1" height="35" fill="#c0c0c0"/>
<rect x="748" y="575" width="1" height="43" fill="#c0c0c0"/>
<rect x="756" y="569" width="1" height="49" fill="#c0c0c0"/>
<rect x="764" y="566" width="1" height="52" fill="#c0c0c0"/>
<rect x="772" y="562" width="1" height="56" fill="#c0c0c0"/>
<rect x="780" y="560" width="1" height="58" fill="#c0c0c0"/>
<rect x="788" y="562" width="1" height="56" fill="#c0c0c0"/>
<rect x="796" y="562" width="1" height="56" fill="#c0c0c0"/>
<rect x="804" y="565" width="1" height="53" fill="#c0c0c0"/>
<rect x="812" y="568" width="1" height="50" fill="#c0c0c0"/>
<rect x="820" y="571" width="1" height="47" fill="#c0c0c0"/>
<rect x="828" y="572" width="1" height="46" fill="#c0c0c0"/>
<rect x="836" y="579" width="1" height="39" fill="#c0c0c0"/>
<rect x="844" y="584" width="1" height="34" fill="#c0c0c0"/>
<rect x="852" y="594" width="1" height="24" fill="#c0c0c0"/>
<rect x="860" y="600" width="1" height="18" fill="#c0c0c0"/>
<rect x="868" y="606" width="1" height="12" fill="#c0c0c0"/>
<rect x="876" y="611" width="1" height="7" fill="#c0c0c0"/>
<rect x="884" y="615" width="1" height="3" fill="#c0c0c0"/>
<rect x="900" y="617" width="1" height="2" fill="#c0c0c0"/>
<rect x="908" y="617" width="1" height="4" fill="#c0c0c0"/>
<rect x="916" y="617" width="1" height="4" fill="#c0c0c0"/>
<rect x="924" y="617" width="1" height="7" fill="#c0c0c0"/>
<rect x="932" y="617" width="1" height="8" fill="#c0c0c0"/>
<rect x="940" y="617" width="1" height="7" fill="#c0c0c0"/>
<rect x="948" y="617" width="1" height="7" fill="#c0c0c0"/>
<rect x="956" y="617" width="1" height="9" fill="#c0c0c0"/>
<rect x="964" y="617" width="1" height="9" fill="#c0c0c0"/>
<rect x="972" y="617" width="1" height="11" fill="#c0c0c0"/>
<rect x="980" y="617" width="1" height="10" fill="#c0c0c0"/>
<rect x="988" y="617" width="1" height="9" fill="#c0c0c0"/>
<rect x="996" y="617" width="1" height="8" fill="#c0c0c0"/>
<rect x="1004" y="617" width="1" height="5" fill="#c0c0c0"/>
<rect x="1020" y="614" width="1" height="4" fill="#c0c0c0"/>
<rect x="1028" y="612" width="1" height="6" fill="#c0c0c0"/>
<rect x="1036" y="611" width="1" height="7" fill="#c0c0c0"/>
<rect x="1044" y="610" width="1" height="8" fill="#c0c0c0"/>
<rect x="1052" y="610" width="1" height="8" fill="#c0c0c0"/>
<rect x="1060" y="609" width="1" height="9" fill="#c0c0c0"/>
<rect x="1068" y="610" width="1" height="8" fill="#c0c0c0"/>
<rect x="1076" y="611" width="1" height="7" fill="#c0c0c0"/>
<rect x="1084" y="609" width="1" height="9" fill="#c0c0c0"/>
<rect x="1092" y="607" width="1" height="11" fill="#c0c0c0"/>
<rect x="1100" y="604" width="1" height="14" fill="#c0c0c0"/>
<rect x="1108" y="601" width="1" height="17" fill="#c0c0c0"/>
<rect x="1116" y="601" width="1" height="17" fill="#c0c0c0"/>
<rect x="1124" y="602" width="1" height="16" fill="#c0c0c0"/>
<rect x="1132" y="602" width="1" height="16" fill="#c0c0c0"/>
<rect x="1140" y="612" width="1" height="6" fill="#c0c0c0"/>
<rect x="1156" y="617" width="1" height="5" fill="#c0c0c0"/>
<rect x="1164" y="617" width="1" height="10" fill="#c0c0c0"/>
<rect x="1172" y="617" width="1" height="13" fill="#c0c0c0"/>
<rect x="1180" y="617" width="1" height="15" fill="#c0c0c0"/>
<rect x="1188" y="617" width="1" height="13" fill="#c0c0c0"/>
<rect x="1196" y="617" width="1" height="10" fill="#c0c0c0"/>
<rect x="1204" y="617" width="1" height="7" fill="#c0c0c0"/>
<rect x="1212" y="617" width="1" height="4" fill="#c0c0c0"/>
<rect x="1220" y="617" width="1" height="3" fill="#c0c0c0"/>
<rect x="1228" y="617" width="1" height="4" fill="#c0c0c0"/>
<rect x="1236" y="617" width="1" height="12" fill="#c0c0c0"/>
<rect x="1244" y="617" width="1" height="16" fill="#c0c0c0"/>
<rect x="1252" y="617" width="1" height="20" fill="#c0c0c0"/>
<rect x="1260" y="617" width="1" height="24" fill="#c0c0c0"/>
<rect x="1268" y="617" width="1" height="32" fill="#c0c0c0"/>
<rect x="1276" y="617" width="1" height="39" fill="#c0c0c0"/>
<rect x="1284" y="617" width="1" height="44" fill="#c0c0c0"/>
<rect x="1292" y="617" width="1" height="49" fill="#c0c0c0"/>
<rect x="1300" y="617" width="1" height="53" fill="#c0c0c0"/>
<rect x="1308" y="617" width="1" height="53" fill="#c0c0c0"/>
<rect x="1316" y="617" width="1" height="49" fill="#c0c0c0"/>
<rect x="1324" y="617" width="1" height="46" fill="#c0c0c0"/>
<rect x="1332" y="617" width="1" height="38" fill="#c0c0c0"/>
<rect x="1340" y="617" width="1" height="28" fill="#c0c0c0"/>
<rect x="1348" y="617" width="1" height="20" fill="#c0c0c0"/>
<rect x="1356" y="617" width="1" height="12" fill="#c0c0c0"/>
<rect x="1364" y="617" width="1" height="7" fill="#c0c0c0"/>
<rect x="1372" y="617" width="1" height="3" fill="#c0c0c0"/>
<rect x="1380" y="614" width="1" height="4" fill="#c0c0c0"/>
<rect x="1388" y="606" width="1" height="12" fill="#c0c0c0"/>
<rect x="1396" y="602" width="1" height="16" fill="#c0c0c0"/>
<rect x="1404" y="601" width="1" height="17" fill="#c0c0c0"/>
<rect x="1412" y="599" width="1" height="19" fill="#c0c0c0"/>
<rect x="1420" y="596" width="1" height="22" fill="#c0c0c0"/>
<rect x="1428" y="597" width="1" height="21" fill="#c0c0c0"/>
<rect x="1436" y="599" width="1" height="19" fill="#c0c0c0"/>
<rect x="1444" y="598" width="1" height="20" fill="#c0c0c0"/>
<rect x="1452" y="598" width="1" height="20" fill="#c0c0c0"/>
<rect x="1460" y="597" width="1" height="21" fill="#c0c0c0"/>
<rect x="1468" y="594" width="1" height="24" fill="#c0c0c0"/>
<rect x="1476" y="591" width="1" height="27" fill="#c0c0c0"/>
<rect x="1484" y="587" width="1" height="31" fill="#c0c0c0"/>
<rect x="1492" y="583" width="1" height="35" fill="#c0c0c0"/>
<rect x="1500" y="579" width="1" height="39" fill="#c0c0c0"/>
<rect x="1508" y="578" width="1" height="40" fill="#c0c0c0"/>
<rect x="1516" y="576" width="1" height="42" fill="#c0c0c0"/>
<rect x="1524" y="578" width="1" height="40" fill="#c0c0c0"/>
<rect x="1532" y="577" width="1" height="41" fill="#c0c0c0"/>
<rect x="1540" y="580" width="1" height="38" fill="#c0c0c0"/>
<rect x="1548" y="584" width="1" height="34" fill="#c0c0c0"/>
<rect x="1556" y="589" width="1" height="29" fill="#c0c0c0"/>
<rect x="1564" y="594" width="1" height="24" fill="#c0c0c0"/>
<rect x="1572" y="598" width="1" height="20" fill="#c0c0c0"/>
<rect x="1580" y="602" width="1" height="16" fill="#c0c0c0"/>
<rect x="1588" y="609" width="1" height="9" fill="#c0c0c0"/>
<rect x="1596" y="614" width="1" height="4" fill="#c0c0c0"/>
<rect x="1612" y="617" width="1" height="3" fill="#c0c0c0"/>
<rect x="1620" y="617" width="1" height="5" fill="#c0c0c0"/>
<rect x="1628" y="617" width="1" height="2" fill="#c0c0c0"/>
<rect x="1636" y="617" width="1" height="1" fill="#c0c0c0"/>
<rect x="1652" y="616" width="1" height="2" fill="#c0c0c0"/>
<rect x="1668" y="615" width="1" height="3" fill="#c0c0c0"/>
<polyline points="4.0,591.0 17.4,591.7 29.6,593.1 42.6,594.9 52.2,597.8 60.0,600.9 72.2,603.6 84.4,606.7 92.2,607.9 132.2,607.9 139.2,609.1 167.0,610.2 181.0,611.9 187.9,613.1 207.1,614.0 215.8,616.1 226.2,617.8 234.9,621.3 245.3,625.3 252.3,628.3 261.0,634.0 268.8,638.4 276.7,642.2 285.4,647.1 294.1,650.0 307.4,653.2 317.8,657.0 330.0,660.6 341.3,664.5 354.4,669.2 359.6,670.9 365.7,673.2 371.8,675.8 378.7,678.4 389.2,679.8 396.1,681.9 402.2,683.1 413.5,686.2 419.6,688.8 425.7,690.9 431.8,693.2 437.9,694.9 444.0,697.2 450.1,698.0 455.3,698.9 461.4,699.8 467.5,699.8 473.6,698.7 479.7,695.8 485.8,694.4 491.8,691.8 497.9,689.2 504.0,685.7 510.1,683.6 516.2,681.0 521.4,678.9 527.5,677.0 533.6,675.8 539.7,674.0 545.8,672.6 551.0,671.4 557.1,670.2 563.2,668.8 569.3,667.9 575.4,667.1 581.5,665.7 587.5,663.9 593.1,662.5 604.4,660.0 616.5,656.9 628.7,654.6 640.9,652.0 652.2,650.3 660.0,647.9 670.5,644.2 682.7,637.8 694.8,631.7 707.0,622.1 719.2,612.5 731.4,603.5 743.6,595.1 755.7,588.5 767.9,581.2 780.1,575.1 791.4,570.8 802.7,566.9 814.0,565.0 827.1,565.0 834.0,565.9 844.5,569.0 856.7,575.1 867.1,581.2 877.5,586.8 880.4,589.0 892.6,598.1 904.8,605.6 917.0,612.2 929.2,616.9 941.3,619.8 953.5,622.4 965.7,623.8 977.9,625.9 990.1,626.8 1002.2,626.1 1012.7,625.6 1019.6,623.8 1031.8,622.1 1044.0,618.6 1056.2,615.7 1066.6,612.9 1078.8,611.7 1091.0,609.6 1103.2,608.5 1115.3,607.0 1125.8,606.1 1132.7,604.7 1143.2,604.7 1155.4,607.8 1162.1,609.1 1170.4,612.0 1180.9,616.9 1193.1,621.6 1205.2,624.7 1212.2,626.8 1229.6,626.8 1247.0,627.0 1259.2,628.7 1271.4,632.5 1283.5,639.0 1295.7,646.8 1307.9,654.3 1320.1,659.0 1332.3,662.5 1342.7,661.3 1349.7,659.9 1361.8,653.4 1374.0,644.7 1386.2,635.7 1398.4,624.2 1410.6,616.5 1421.0,609.9 1433.2,605.2 1445.4,600.9 1457.5,598.1 1462.3,598.1 1469.2,596.5 1486.6,594.8 1493.6,593.7 1498.8,592.0 1511.0,588.7 1518.0,586.4 1528.4,584.3 1533.6,582.1 1545.8,580.0 1552.8,580.0 1559.7,581.2 1566.7,582.1 1577.1,585.6 1589.3,589.4 1596.3,593.7 1606.7,599.5 1613.7,603.8 1625.8,609.6 1631.1,612.0 1638.0,613.7 1645.0,616.4 1655.4,617.8 1668.0,617.8" fill="none" stroke="#ff0000" stroke-width="1" stroke-dasharray="3 3"/>
<rect x="1690" y="552" width="2" height="1" fill="#000"/>
<text transform="translate(1693,561) scale(0.9620,1)" fill="#000" stroke="#000" stroke-width="0.12" font-size="9.7" text-anchor="start" >0.8812</text>
<rect x="1690" y="617" width="2" height="1" fill="#000"/>
<text transform="translate(1693,621) scale(0.9620,1)" fill="#000" stroke="#000" stroke-width="0.12" font-size="9.7" text-anchor="start" >0.00</text>
<text transform="translate(1693,714) scale(0.9620,1)" fill="#000" stroke="#000" stroke-width="0.12" font-size="9.7" text-anchor="start" >-1.3368</text>
<text transform="translate(8.6,732) scale(0.9620,1)" fill="#000" stroke="#000" stroke-width="0.12" font-size="9.7" text-anchor="start" >RSI(14) 54.0993</text>
<rect x="5" y="766" width="3" height="1" fill="#c0c0c0"/>
<rect x="11" y="766" width="3" height="1" fill="#c0c0c0"/>
<rect x="17" y="766" width="3" height="1" fill="#c0c0c0"/>
<rect x="23" y="766" width="3" height="1" fill="#c0c0c0"/>
<rect x="29" y="766" width="3" height="1" fill="#c0c0c0"/>
<rect x="35" y="766" width="3" height="1" fill="#c0c0c0"/>
<rect x="41" y="766" width="3" height="1" fill="#c0c0c0"/>
<rect x="47" y="766" width="3" height="1" fill="#c0c0c0"/>
<rect x="53" y="766" width="3" height="1" fill="#c0c0c0"/>
<rect x="59" y="766" width="3" height="1" fill="#c0c0c0"/>
<rect x="65" y="766" width="3" height="1" fill="#c0c0c0"/>
<rect x="71" y="766" width="3" height="1" fill="#c0c0c0"/>
<rect x="77" y="766" width="3" height="1" fill="#c0c0c0"/>
<rect x="83" y="766" width="3" height="1" fill="#c0c0c0"/>
<rect x="89" y="766" width="3" height="1" fill="#c0c0c0"/>
<rect x="95" y="766" width="3" height="1" fill="#c0c0c0"/>
<rect x="101" y="766" width="3" height="1" fill="#c0c0c0"/>
<rect x="107" y="766" width="3" height="1" fill="#c0c0c0"/>
<rect x="113" y="766" width="3" height="1" fill="#c0c0c0"/>
<rect x="119" y="766" width="3" height="1" fill="#c0c0c0"/>
<rect x="125" y="766" width="3" height="1" fill="#c0c0c0"/>
<rect x="131" y="766" width="3" height="1" fill="#c0c0c0"/>
<rect x="137" y="766" width="3" height="1" fill="#c0c0c0"/>
<rect x="143" y="766" width="3" height="1" fill="#c0c0c0"/>
<rect x="149" y="766" width="3" height="1" fill="#c0c0c0"/>
<rect x="155" y="766" width="3" height="1" fill="#c0c0c0"/>
<rect x="161" y="766" width="3" height="1" fill="#c0c0c0"/>
<rect x="167" y="766" width="3" height="1" fill="#c0c0c0"/>
<rect x="173" y="766" width="3" height="1" fill="#c0c0c0"/>
<rect x="179" y="766" width="3" height="1" fill="#c0c0c0"/>
<rect x="185" y="766" width="3" height="1" fill="#c0c0c0"/>
<rect x="191" y="766" width="3" height="1" fill="#c0c0c0"/>
<rect x="197" y="766" width="3" height="1" fill="#c0c0c0"/>
<rect x="203" y="766" width="3" height="1" fill="#c0c0c0"/>
<rect x="209" y="766" width="3" height="1" fill="#c0c0c0"/>
<rect x="215" y="766" width="3" height="1" fill="#c0c0c0"/>
<rect x="221" y="766" width="3" height="1" fill="#c0c0c0"/>
<rect x="227" y="766" width="3" height="1" fill="#c0c0c0"/>
<rect x="233" y="766" width="3" height="1" fill="#c0c0c0"/>
<rect x="239" y="766" width="3" height="1" fill="#c0c0c0"/>
<rect x="245" y="766" width="3" height="1" fill="#c0c0c0"/>
<rect x="251" y="766" width="3" height="1" fill="#c0c0c0"/>
<rect x="257" y="766" width="3" height="1" fill="#c0c0c0"/>
<rect x="263" y="766" width="3" height="1" fill="#c0c0c0"/>
<rect x="269" y="766" width="3" height="1" fill="#c0c0c0"/>
<rect x="275" y="766" width="3" height="1" fill="#c0c0c0"/>
<rect x="281" y="766" width="3" height="1" fill="#c0c0c0"/>
<rect x="287" y="766" width="3" height="1" fill="#c0c0c0"/>
<rect x="293" y="766" width="3" height="1" fill="#c0c0c0"/>
<rect x="299" y="766" width="3" height="1" fill="#c0c0c0"/>
<rect x="305" y="766" width="3" height="1" fill="#c0c0c0"/>
<rect x="311" y="766" width="3" height="1" fill="#c0c0c0"/>
<rect x="317" y="766" width="3" height="1" fill="#c0c0c0"/>
<rect x="323" y="766" width="3" height="1" fill="#c0c0c0"/>
<rect x="329" y="766" width="3" height="1" fill="#c0c0c0"/>
<rect x="335" y="766" width="3" height="1" fill="#c0c0c0"/>
<rect x="341" y="766" width="3" height="1" fill="#c0c0c0"/>
<rect x="347" y="766" width="3" height="1" fill="#c0c0c0"/>
<rect x="353" y="766" width="3" height="1" fill="#c0c0c0"/>
<rect x="359" y="766" width="3" height="1" fill="#c0c0c0"/>
<rect x="365" y="766" width="3" height="1" fill="#c0c0c0"/>
<rect x="371" y="766" width="3" height="1" fill="#c0c0c0"/>
<rect x="377" y="766" width="3" height="1" fill="#c0c0c0"/>
<rect x="383" y="766" width="3" height="1" fill="#c0c0c0"/>
<rect x="389" y="766" width="3" height="1" fill="#c0c0c0"/>
<rect x="395" y="766" width="3" height="1" fill="#c0c0c0"/>
<rect x="401" y="766" width="3" height="1" fill="#c0c0c0"/>
<rect x="407" y="766" width="3" height="1" fill="#c0c0c0"/>
<rect x="413" y="766" width="3" height="1" fill="#c0c0c0"/>
<rect x="419" y="766" width="3" height="1" fill="#c0c0c0"/>
<rect x="425" y="766" width="3" height="1" fill="#c0c0c0"/>
<rect x="431" y="766" width="3" height="1" fill="#c0c0c0"/>
<rect x="437" y="766" width="3" height="1" fill="#c0c0c0"/>
<rect x="443" y="766" width="3" height="1" fill="#c0c0c0"/>
<rect x="449" y="766" width="3" height="1" fill="#c0c0c0"/>
<rect x="455" y="766" width="3" height="1" fill="#c0c0c0"/>
<rect x="461" y="766" width="3" height="1" fill="#c0c0c0"/>
<rect x="467" y="766" width="3" height="1" fill="#c0c0c0"/>
<rect x="473" y="766" width="3" height="1" fill="#c0c0c0"/>
<rect x="479" y="766" width="3" height="1" fill="#c0c0c0"/>
<rect x="485" y="766" width="3" height="1" fill="#c0c0c0"/>
<rect x="491" y="766" width="3" height="1" fill="#c0c0c0"/>
<rect x="497" y="766" width="3" height="1" fill="#c0c0c0"/>
<rect x="503" y="766" width="3" height="1" fill="#c0c0c0"/>
<rect x="509" y="766" width="3" height="1" fill="#c0c0c0"/>
<rect x="515" y="766" width="3" height="1" fill="#c0c0c0"/>
<rect x="521" y="766" width="3" height="1" fill="#c0c0c0"/>
<rect x="527" y="766" width="3" height="1" fill="#c0c0c0"/>
<rect x="533" y="766" width="3" height="1" fill="#c0c0c0"/>
<rect x="539" y="766" width="3" height="1" fill="#c0c0c0"/>
<rect x="545" y="766" width="3" height="1" fill="#c0c0c0"/>
<rect x="551" y="766" width="3" height="1" fill="#c0c0c0"/>
<rect x="557" y="766" width="3" height="1" fill="#c0c0c0"/>
<rect x="563" y="766" width="3" height="1" fill="#c0c0c0"/>
<rect x="569" y="766" width="3" height="1" fill="#c0c0c0"/>
<rect x="575" y="766" width="3" height="1" fill="#c0c0c0"/>
<rect x="581" y="766" width="3" height="1" fill="#c0c0c0"/>
<rect x="587" y="766" width="3" height="1" fill="#c0c0c0"/>
<rect x="593" y="766" width="3" height="1" fill="#c0c0c0"/>
<rect x="599" y="766" width="3" height="1" fill="#c0c0c0"/>
<rect x="605" y="766" width="3" height="1" fill="#c0c0c0"/>
<rect x="611" y="766" width="3" height="1" fill="#c0c0c0"/>
<rect x="617" y="766" width="3" height="1" fill="#c0c0c0"/>
<rect x="623" y="766" width="3" height="1" fill="#c0c0c0"/>
<rect x="629" y="766" width="3" height="1" fill="#c0c0c0"/>
<rect x="635" y="766" width="3" height="1" fill="#c0c0c0"/>
<rect x="641" y="766" width="3" height="1" fill="#c0c0c0"/>
<rect x="647" y="766" width="3" height="1" fill="#c0c0c0"/>
<rect x="653" y="766" width="3" height="1" fill="#c0c0c0"/>
<rect x="659" y="766" width="3" height="1" fill="#c0c0c0"/>
<rect x="665" y="766" width="3" height="1" fill="#c0c0c0"/>
<rect x="671" y="766" width="3" height="1" fill="#c0c0c0"/>
<rect x="677" y="766" width="3" height="1" fill="#c0c0c0"/>
<rect x="683" y="766" width="3" height="1" fill="#c0c0c0"/>
<rect x="689" y="766" width="3" height="1" fill="#c0c0c0"/>
<rect x="695" y="766" width="3" height="1" fill="#c0c0c0"/>
<rect x="701" y="766" width="3" height="1" fill="#c0c0c0"/>
<rect x="707" y="766" width="3" height="1" fill="#c0c0c0"/>
<rect x="713" y="766" width="3" height="1" fill="#c0c0c0"/>
<rect x="719" y="766" width="3" height="1" fill="#c0c0c0"/>
<rect x="725" y="766" width="3" height="1" fill="#c0c0c0"/>
<rect x="731" y="766" width="3" height="1" fill="#c0c0c0"/>
<rect x="737" y="766" width="3" height="1" fill="#c0c0c0"/>
<rect x="743" y="766" width="3" height="1" fill="#c0c0c0"/>
<rect x="749" y="766" width="3" height="1" fill="#c0c0c0"/>
<rect x="755" y="766" width="3" height="1" fill="#c0c0c0"/>
<rect x="761" y="766" width="3" height="1" fill="#c0c0c0"/>
<rect x="767" y="766" width="3" height="1" fill="#c0c0c0"/>
<rect x="773" y="766" width="3" height="1" fill="#c0c0c0"/>
<rect x="779" y="766" width="3" height="1" fill="#c0c0c0"/>
<rect x="785" y="766" width="3" height="1" fill="#c0c0c0"/>
<rect x="791" y="766" width="3" height="1" fill="#c0c0c0"/>
<rect x="797" y="766" width="3" height="1" fill="#c0c0c0"/>
<rect x="803" y="766" width="3" height="1" fill="#c0c0c0"/>
<rect x="809" y="766" width="3" height="1" fill="#c0c0c0"/>
<rect x="815" y="766" width="3" height="1" fill="#c0c0c0"/>
<rect x="821" y="766" width="3" height="1" fill="#c0c0c0"/>
<rect x="827" y="766" width="3" height="1" fill="#c0c0c0"/>
<rect x="833" y="766" width="3" height="1" fill="#c0c0c0"/>
<rect x="839" y="766" width="3" height="1" fill="#c0c0c0"/>
<rect x="845" y="766" width="3" height="1" fill="#c0c0c0"/>
<rect x="851" y="766" width="3" height="1" fill="#c0c0c0"/>
<rect x="857" y="766" width="3" height="1" fill="#c0c0c0"/>
<rect x="863" y="766" width="3" height="1" fill="#c0c0c0"/>
<rect x="869" y="766" width="3" height="1" fill="#c0c0c0"/>
<rect x="875" y="766" width="3" height="1" fill="#c0c0c0"/>
<rect x="881" y="766" width="3" height="1" fill="#c0c0c0"/>
<rect x="887" y="766" width="3" height="1" fill="#c0c0c0"/>
<rect x="893" y="766" width="3" height="1" fill="#c0c0c0"/>
<rect x="899" y="766" width="3" height="1" fill="#c0c0c0"/>
<rect x="905" y="766" width="3" height="1" fill="#c0c0c0"/>
<rect x="911" y="766" width="3" height="1" fill="#c0c0c0"/>
<rect x="917" y="766" width="3" height="1" fill="#c0c0c0"/>
<rect x="923" y="766" width="3" height="1" fill="#c0c0c0"/>
<rect x="929" y="766" width="3" height="1" fill="#c0c0c0"/>
<rect x="935" y="766" width="3" height="1" fill="#c0c0c0"/>
<rect x="941" y="766" width="3" height="1" fill="#c0c0c0"/>
<rect x="947" y="766" width="3" height="1" fill="#c0c0c0"/>
<rect x="953" y="766" width="3" height="1" fill="#c0c0c0"/>
<rect x="959" y="766" width="3" height="1" fill="#c0c0c0"/>
<rect x="965" y="766" width="3" height="1" fill="#c0c0c0"/>
<rect x="971" y="766" width="3" height="1" fill="#c0c0c0"/>
<rect x="977" y="766" width="3" height="1" fill="#c0c0c0"/>
<rect x="983" y="766" width="3" height="1" fill="#c0c0c0"/>
<rect x="989" y="766" width="3" height="1" fill="#c0c0c0"/>
<rect x="995" y="766" width="3" height="1" fill="#c0c0c0"/>
<rect x="1001" y="766" width="3" height="1" fill="#c0c0c0"/>
<rect x="1007" y="766" width="3" height="1" fill="#c0c0c0"/>
<rect x="1013" y="766" width="3" height="1" fill="#c0c0c0"/>
<rect x="1019" y="766" width="3" height="1" fill="#c0c0c0"/>
<rect x="1025" y="766" width="3" height="1" fill="#c0c0c0"/>
<rect x="1031" y="766" width="3" height="1" fill="#c0c0c0"/>
<rect x="1037" y="766" width="3" height="1" fill="#c0c0c0"/>
<rect x="1043" y="766" width="3" height="1" fill="#c0c0c0"/>
<rect x="1049" y="766" width="3" height="1" fill="#c0c0c0"/>
<rect x="1055" y="766" width="3" height="1" fill="#c0c0c0"/>
<rect x="1061" y="766" width="3" height="1" fill="#c0c0c0"/>
<rect x="1067" y="766" width="3" height="1" fill="#c0c0c0"/>
<rect x="1073" y="766" width="3" height="1" fill="#c0c0c0"/>
<rect x="1079" y="766" width="3" height="1" fill="#c0c0c0"/>
<rect x="1085" y="766" width="3" height="1" fill="#c0c0c0"/>
<rect x="1091" y="766" width="3" height="1" fill="#c0c0c0"/>
<rect x="1097" y="766" width="3" height="1" fill="#c0c0c0"/>
<rect x="1103" y="766" width="3" height="1" fill="#c0c0c0"/>
<rect x="1109" y="766" width="3" height="1" fill="#c0c0c0"/>
<rect x="1115" y="766" width="3" height="1" fill="#c0c0c0"/>
<rect x="1121" y="766" width="3" height="1" fill="#c0c0c0"/>
<rect x="1127" y="766" width="3" height="1" fill="#c0c0c0"/>
<rect x="1133" y="766" width="3" height="1" fill="#c0c0c0"/>
<rect x="1139" y="766" width="3" height="1" fill="#c0c0c0"/>
<rect x="1145" y="766" width="3" height="1" fill="#c0c0c0"/>
<rect x="1151" y="766" width="3" height="1" fill="#c0c0c0"/>
<rect x="1157" y="766" width="3" height="1" fill="#c0c0c0"/>
<rect x="1163" y="766" width="3" height="1" fill="#c0c0c0"/>
<rect x="1169" y="766" width="3" height="1" fill="#c0c0c0"/>
<rect x="1175" y="766" width="3" height="1" fill="#c0c0c0"/>
<rect x="1181" y="766" width="3" height="1" fill="#c0c0c0"/>
<rect x="1187" y="766" width="3" height="1" fill="#c0c0c0"/>
<rect x="1193" y="766" width="3" height="1" fill="#c0c0c0"/>
<rect x="1199" y="766" width="3" height="1" fill="#c0c0c0"/>
<rect x="1205" y="766" width="3" height="1" fill="#c0c0c0"/>
<rect x="1211" y="766" width="3" height="1" fill="#c0c0c0"/>
<rect x="1217" y="766" width="3" height="1" fill="#c0c0c0"/>
<rect x="1223" y="766" width="3" height="1" fill="#c0c0c0"/>
<rect x="1229" y="766" width="3" height="1" fill="#c0c0c0"/>
<rect x="1235" y="766" width="3" height="1" fill="#c0c0c0"/>
<rect x="1241" y="766" width="3" height="1" fill="#c0c0c0"/>
<rect x="1247" y="766" width="3" height="1" fill="#c0c0c0"/>
<rect x="1253" y="766" width="3" height="1" fill="#c0c0c0"/>
<rect x="1259" y="766" width="3" height="1" fill="#c0c0c0"/>
<rect x="1265" y="766" width="3" height="1" fill="#c0c0c0"/>
<rect x="1271" y="766" width="3" height="1" fill="#c0c0c0"/>
<rect x="1277" y="766" width="3" height="1" fill="#c0c0c0"/>
<rect x="1283" y="766" width="3" height="1" fill="#c0c0c0"/>
<rect x="1289" y="766" width="3" height="1" fill="#c0c0c0"/>
<rect x="1295" y="766" width="3" height="1" fill="#c0c0c0"/>
<rect x="1301" y="766" width="3" height="1" fill="#c0c0c0"/>
<rect x="1307" y="766" width="3" height="1" fill="#c0c0c0"/>
<rect x="1313" y="766" width="3" height="1" fill="#c0c0c0"/>
<rect x="1319" y="766" width="3" height="1" fill="#c0c0c0"/>
<rect x="1325" y="766" width="3" height="1" fill="#c0c0c0"/>
<rect x="1331" y="766" width="3" height="1" fill="#c0c0c0"/>
<rect x="1337" y="766" width="3" height="1" fill="#c0c0c0"/>
<rect x="1343" y="766" width="3" height="1" fill="#c0c0c0"/>
<rect x="1349" y="766" width="3" height="1" fill="#c0c0c0"/>
<rect x="1355" y="766" width="3" height="1" fill="#c0c0c0"/>
<rect x="1361" y="766" width="3" height="1" fill="#c0c0c0"/>
<rect x="1367" y="766" width="3" height="1" fill="#c0c0c0"/>
<rect x="1373" y="766" width="3" height="1" fill="#c0c0c0"/>
<rect x="1379" y="766" width="3" height="1" fill="#c0c0c0"/>
<rect x="1385" y="766" width="3" height="1" fill="#c0c0c0"/>
<rect x="1391" y="766" width="3" height="1" fill="#c0c0c0"/>
<rect x="1397" y="766" width="3" height="1" fill="#c0c0c0"/>
<rect x="1403" y="766" width="3" height="1" fill="#c0c0c0"/>
<rect x="1409" y="766" width="3" height="1" fill="#c0c0c0"/>
<rect x="1415" y="766" width="3" height="1" fill="#c0c0c0"/>
<rect x="1421" y="766" width="3" height="1" fill="#c0c0c0"/>
<rect x="1427" y="766" width="3" height="1" fill="#c0c0c0"/>
<rect x="1433" y="766" width="3" height="1" fill="#c0c0c0"/>
<rect x="1439" y="766" width="3" height="1" fill="#c0c0c0"/>
<rect x="1445" y="766" width="3" height="1" fill="#c0c0c0"/>
<rect x="1451" y="766" width="3" height="1" fill="#c0c0c0"/>
<rect x="1457" y="766" width="3" height="1" fill="#c0c0c0"/>
<rect x="1463" y="766" width="3" height="1" fill="#c0c0c0"/>
<rect x="1469" y="766" width="3" height="1" fill="#c0c0c0"/>
<rect x="1475" y="766" width="3" height="1" fill="#c0c0c0"/>
<rect x="1481" y="766" width="3" height="1" fill="#c0c0c0"/>
<rect x="1487" y="766" width="3" height="1" fill="#c0c0c0"/>
<rect x="1493" y="766" width="3" height="1" fill="#c0c0c0"/>
<rect x="1499" y="766" width="3" height="1" fill="#c0c0c0"/>
<rect x="1505" y="766" width="3" height="1" fill="#c0c0c0"/>
<rect x="1511" y="766" width="3" height="1" fill="#c0c0c0"/>
<rect x="1517" y="766" width="3" height="1" fill="#c0c0c0"/>
<rect x="1523" y="766" width="3" height="1" fill="#c0c0c0"/>
<rect x="1529" y="766" width="3" height="1" fill="#c0c0c0"/>
<rect x="1535" y="766" width="3" height="1" fill="#c0c0c0"/>
<rect x="1541" y="766" width="3" height="1" fill="#c0c0c0"/>
<rect x="1547" y="766" width="3" height="1" fill="#c0c0c0"/>
<rect x="1553" y="766" width="3" height="1" fill="#c0c0c0"/>
<rect x="1559" y="766" width="3" height="1" fill="#c0c0c0"/>
<rect x="1565" y="766" width="3" height="1" fill="#c0c0c0"/>
<rect x="1571" y="766" width="3" height="1" fill="#c0c0c0"/>
<rect x="1577" y="766" width="3" height="1" fill="#c0c0c0"/>
<rect x="1583" y="766" width="3" height="1" fill="#c0c0c0"/>
<rect x="1589" y="766" width="3" height="1" fill="#c0c0c0"/>
<rect x="1595" y="766" width="3" height="1" fill="#c0c0c0"/>
<rect x="1601" y="766" width="3" height="1" fill="#c0c0c0"/>
<rect x="1607" y="766" width="3" height="1" fill="#c0c0c0"/>
<rect x="1613" y="766" width="3" height="1" fill="#c0c0c0"/>
<rect x="1619" y="766" width="3" height="1" fill="#c0c0c0"/>
<rect x="1625" y="766" width="3" height="1" fill="#c0c0c0"/>
<rect x="1631" y="766" width="3" height="1" fill="#c0c0c0"/>
<rect x="1637" y="766" width="3" height="1" fill="#c0c0c0"/>
<rect x="1643" y="766" width="3" height="1" fill="#c0c0c0"/>
<rect x="1649" y="766" width="3" height="1" fill="#c0c0c0"/>
<rect x="1655" y="766" width="3" height="1" fill="#c0c0c0"/>
<rect x="1661" y="766" width="3" height="1" fill="#c0c0c0"/>
<rect x="1667" y="766" width="3" height="1" fill="#c0c0c0"/>
<rect x="1673" y="766" width="3" height="1" fill="#c0c0c0"/>
<rect x="1679" y="766" width="3" height="1" fill="#c0c0c0"/>
<rect x="1685" y="766" width="3" height="1" fill="#c0c0c0"/>
<rect x="5" y="827" width="3" height="1" fill="#c0c0c0"/>
<rect x="11" y="827" width="3" height="1" fill="#c0c0c0"/>
<rect x="17" y="827" width="3" height="1" fill="#c0c0c0"/>
<rect x="23" y="827" width="3" height="1" fill="#c0c0c0"/>
<rect x="29" y="827" width="3" height="1" fill="#c0c0c0"/>
<rect x="35" y="827" width="3" height="1" fill="#c0c0c0"/>
<rect x="41" y="827" width="3" height="1" fill="#c0c0c0"/>
<rect x="47" y="827" width="3" height="1" fill="#c0c0c0"/>
<rect x="53" y="827" width="3" height="1" fill="#c0c0c0"/>
<rect x="59" y="827" width="3" height="1" fill="#c0c0c0"/>
<rect x="65" y="827" width="3" height="1" fill="#c0c0c0"/>
<rect x="71" y="827" width="3" height="1" fill="#c0c0c0"/>
<rect x="77" y="827" width="3" height="1" fill="#c0c0c0"/>
<rect x="83" y="827" width="3" height="1" fill="#c0c0c0"/>
<rect x="89" y="827" width="3" height="1" fill="#c0c0c0"/>
<rect x="95" y="827" width="3" height="1" fill="#c0c0c0"/>
<rect x="101" y="827" width="3" height="1" fill="#c0c0c0"/>
<rect x="107" y="827" width="3" height="1" fill="#c0c0c0"/>
<rect x="113" y="827" width="3" height="1" fill="#c0c0c0"/>
<rect x="119" y="827" width="3" height="1" fill="#c0c0c0"/>
<rect x="125" y="827" width="3" height="1" fill="#c0c0c0"/>
<rect x="131" y="827" width="3" height="1" fill="#c0c0c0"/>
<rect x="137" y="827" width="3" height="1" fill="#c0c0c0"/>
<rect x="143" y="827" width="3" height="1" fill="#c0c0c0"/>
<rect x="149" y="827" width="3" height="1" fill="#c0c0c0"/>
<rect x="155" y="827" width="3" height="1" fill="#c0c0c0"/>
<rect x="161" y="827" width="3" height="1" fill="#c0c0c0"/>
<rect x="167" y="827" width="3" height="1" fill="#c0c0c0"/>
<rect x="173" y="827" width="3" height="1" fill="#c0c0c0"/>
<rect x="179" y="827" width="3" height="1" fill="#c0c0c0"/>
<rect x="185" y="827" width="3" height="1" fill="#c0c0c0"/>
<rect x="191" y="827" width="3" height="1" fill="#c0c0c0"/>
<rect x="197" y="827" width="3" height="1" fill="#c0c0c0"/>
<rect x="203" y="827" width="3" height="1" fill="#c0c0c0"/>
<rect x="209" y="827" width="3" height="1" fill="#c0c0c0"/>
<rect x="215" y="827" width="3" height="1" fill="#c0c0c0"/>
<rect x="221" y="827" width="3" height="1" fill="#c0c0c0"/>
<rect x="227" y="827" width="3" height="1" fill="#c0c0c0"/>
<rect x="233" y="827" width="3" height="1" fill="#c0c0c0"/>
<rect x="239" y="827" width="3" height="1" fill="#c0c0c0"/>
<rect x="245" y="827" width="3" height="1" fill="#c0c0c0"/>
<rect x="251" y="827" width="3" height="1" fill="#c0c0c0"/>
<rect x="257" y="827" width="3" height="1" fill="#c0c0c0"/>
<rect x="263" y="827" width="3" height="1" fill="#c0c0c0"/>
<rect x="269" y="827" width="3" height="1" fill="#c0c0c0"/>
<rect x="275" y="827" width="3" height="1" fill="#c0c0c0"/>
<rect x="281" y="827" width="3" height="1" fill="#c0c0c0"/>
<rect x="287" y="827" width="3" height="1" fill="#c0c0c0"/>
<rect x="293" y="827" width="3" height="1" fill="#c0c0c0"/>
<rect x="299" y="827" width="3" height="1" fill="#c0c0c0"/>
<rect x="305" y="827" width="3" height="1" fill="#c0c0c0"/>
<rect x="311" y="827" width="3" height="1" fill="#c0c0c0"/>
<rect x="317" y="827" width="3" height="1" fill="#c0c0c0"/>
<rect x="323" y="827" width="3" height="1" fill="#c0c0c0"/>
<rect x="329" y="827" width="3" height="1" fill="#c0c0c0"/>
<rect x="335" y="827" width="3" height="1" fill="#c0c0c0"/>
<rect x="341" y="827" width="3" height="1" fill="#c0c0c0"/>
<rect x="347" y="827" width="3" height="1" fill="#c0c0c0"/>
<rect x="353" y="827" width="3" height="1" fill="#c0c0c0"/>
<rect x="359" y="827" width="3" height="1" fill="#c0c0c0"/>
<rect x="365" y="827" width="3" height="1" fill="#c0c0c0"/>
<rect x="371" y="827" width="3" height="1" fill="#c0c0c0"/>
<rect x="377" y="827" width="3" height="1" fill="#c0c0c0"/>
<rect x="383" y="827" width="3" height="1" fill="#c0c0c0"/>
<rect x="389" y="827" width="3" height="1" fill="#c0c0c0"/>
<rect x="395" y="827" width="3" height="1" fill="#c0c0c0"/>
<rect x="401" y="827" width="3" height="1" fill="#c0c0c0"/>
<rect x="407" y="827" width="3" height="1" fill="#c0c0c0"/>
<rect x="413" y="827" width="3" height="1" fill="#c0c0c0"/>
<rect x="419" y="827" width="3" height="1" fill="#c0c0c0"/>
<rect x="425" y="827" width="3" height="1" fill="#c0c0c0"/>
<rect x="431" y="827" width="3" height="1" fill="#c0c0c0"/>
<rect x="437" y="827" width="3" height="1" fill="#c0c0c0"/>
<rect x="443" y="827" width="3" height="1" fill="#c0c0c0"/>
<rect x="449" y="827" width="3" height="1" fill="#c0c0c0"/>
<rect x="455" y="827" width="3" height="1" fill="#c0c0c0"/>
<rect x="461" y="827" width="3" height="1" fill="#c0c0c0"/>
<rect x="467" y="827" width="3" height="1" fill="#c0c0c0"/>
<rect x="473" y="827" width="3" height="1" fill="#c0c0c0"/>
<rect x="479" y="827" width="3" height="1" fill="#c0c0c0"/>
<rect x="485" y="827" width="3" height="1" fill="#c0c0c0"/>
<rect x="491" y="827" width="3" height="1" fill="#c0c0c0"/>
<rect x="497" y="827" width="3" height="1" fill="#c0c0c0"/>
<rect x="503" y="827" width="3" height="1" fill="#c0c0c0"/>
<rect x="509" y="827" width="3" height="1" fill="#c0c0c0"/>
<rect x="515" y="827" width="3" height="1" fill="#c0c0c0"/>
<rect x="521" y="827" width="3" height="1" fill="#c0c0c0"/>
<rect x="527" y="827" width="3" height="1" fill="#c0c0c0"/>
<rect x="533" y="827" width="3" height="1" fill="#c0c0c0"/>
<rect x="539" y="827" width="3" height="1" fill="#c0c0c0"/>
<rect x="545" y="827" width="3" height="1" fill="#c0c0c0"/>
<rect x="551" y="827" width="3" height="1" fill="#c0c0c0"/>
<rect x="557" y="827" width="3" height="1" fill="#c0c0c0"/>
<rect x="563" y="827" width="3" height="1" fill="#c0c0c0"/>
<rect x="569" y="827" width="3" height="1" fill="#c0c0c0"/>
<rect x="575" y="827" width="3" height="1" fill="#c0c0c0"/>
<rect x="581" y="827" width="3" height="1" fill="#c0c0c0"/>
<rect x="587" y="827" width="3" height="1" fill="#c0c0c0"/>
<rect x="593" y="827" width="3" height="1" fill="#c0c0c0"/>
<rect x="599" y="827" width="3" height="1" fill="#c0c0c0"/>
<rect x="605" y="827" width="3" height="1" fill="#c0c0c0"/>
<rect x="611" y="827" width="3" height="1" fill="#c0c0c0"/>
<rect x="617" y="827" width="3" height="1" fill="#c0c0c0"/>
<rect x="623" y="827" width="3" height="1" fill="#c0c0c0"/>
<rect x="629" y="827" width="3" height="1" fill="#c0c0c0"/>
<rect x="635" y="827" width="3" height="1" fill="#c0c0c0"/>
<rect x="641" y="827" width="3" height="1" fill="#c0c0c0"/>
<rect x="647" y="827" width="3" height="1" fill="#c0c0c0"/>
<rect x="653" y="827" width="3" height="1" fill="#c0c0c0"/>
<rect x="659" y="827" width="3" height="1" fill="#c0c0c0"/>
<rect x="665" y="827" width="3" height="1" fill="#c0c0c0"/>
<rect x="671" y="827" width="3" height="1" fill="#c0c0c0"/>
<rect x="677" y="827" width="3" height="1" fill="#c0c0c0"/>
<rect x="683" y="827" width="3" height="1" fill="#c0c0c0"/>
<rect x="689" y="827" width="3" height="1" fill="#c0c0c0"/>
<rect x="695" y="827" width="3" height="1" fill="#c0c0c0"/>
<rect x="701" y="827" width="3" height="1" fill="#c0c0c0"/>
<rect x="707" y="827" width="3" height="1" fill="#c0c0c0"/>
<rect x="713" y="827" width="3" height="1" fill="#c0c0c0"/>
<rect x="719" y="827" width="3" height="1" fill="#c0c0c0"/>
<rect x="725" y="827" width="3" height="1" fill="#c0c0c0"/>
<rect x="731" y="827" width="3" height="1" fill="#c0c0c0"/>
<rect x="737" y="827" width="3" height="1" fill="#c0c0c0"/>
<rect x="743" y="827" width="3" height="1" fill="#c0c0c0"/>
<rect x="749" y="827" width="3" height="1" fill="#c0c0c0"/>
<rect x="755" y="827" width="3" height="1" fill="#c0c0c0"/>
<rect x="761" y="827" width="3" height="1" fill="#c0c0c0"/>
<rect x="767" y="827" width="3" height="1" fill="#c0c0c0"/>
<rect x="773" y="827" width="3" height="1" fill="#c0c0c0"/>
<rect x="779" y="827" width="3" height="1" fill="#c0c0c0"/>
<rect x="785" y="827" width="3" height="1" fill="#c0c0c0"/>
<rect x="791" y="827" width="3" height="1" fill="#c0c0c0"/>
<rect x="797" y="827" width="3" height="1" fill="#c0c0c0"/>
<rect x="803" y="827" width="3" height="1" fill="#c0c0c0"/>
<rect x="809" y="827" width="3" height="1" fill="#c0c0c0"/>
<rect x="815" y="827" width="3" height="1" fill="#c0c0c0"/>
<rect x="821" y="827" width="3" height="1" fill="#c0c0c0"/>
<rect x="827" y="827" width="3" height="1" fill="#c0c0c0"/>
<rect x="833" y="827" width="3" height="1" fill="#c0c0c0"/>
<rect x="839" y="827" width="3" height="1" fill="#c0c0c0"/>
<rect x="845" y="827" width="3" height="1" fill="#c0c0c0"/>
<rect x="851" y="827" width="3" height="1" fill="#c0c0c0"/>
<rect x="857" y="827" width="3" height="1" fill="#c0c0c0"/>
<rect x="863" y="827" width="3" height="1" fill="#c0c0c0"/>
<rect x="869" y="827" width="3" height="1" fill="#c0c0c0"/>
<rect x="875" y="827" width="3" height="1" fill="#c0c0c0"/>
<rect x="881" y="827" width="3" height="1" fill="#c0c0c0"/>
<rect x="887" y="827" width="3" height="1" fill="#c0c0c0"/>
<rect x="893" y="827" width="3" height="1" fill="#c0c0c0"/>
<rect x="899" y="827" width="3" height="1" fill="#c0c0c0"/>
<rect x="905" y="827" width="3" height="1" fill="#c0c0c0"/>
<rect x="911" y="827" width="3" height="1" fill="#c0c0c0"/>
<rect x="917" y="827" width="3" height="1" fill="#c0c0c0"/>
<rect x="923" y="827" width="3" height="1" fill="#c0c0c0"/>
<rect x="929" y="827" width="3" height="1" fill="#c0c0c0"/>
<rect x="935" y="827" width="3" height="1" fill="#c0c0c0"/>
<rect x="941" y="827" width="3" height="1" fill="#c0c0c0"/>
<rect x="947" y="827" width="3" height="1" fill="#c0c0c0"/>
<rect x="953" y="827" width="3" height="1" fill="#c0c0c0"/>
<rect x="959" y="827" width="3" height="1" fill="#c0c0c0"/>
<rect x="965" y="827" width="3" height="1" fill="#c0c0c0"/>
<rect x="971" y="827" width="3" height="1" fill="#c0c0c0"/>
<rect x="977" y="827" width="3" height="1" fill="#c0c0c0"/>
<rect x="983" y="827" width="3" height="1" fill="#c0c0c0"/>
<rect x="989" y="827" width="3" height="1" fill="#c0c0c0"/>
<rect x="995" y="827" width="3" height="1" fill="#c0c0c0"/>
<rect x="1001" y="827" width="3" height="1" fill="#c0c0c0"/>
<rect x="1007" y="827" width="3" height="1" fill="#c0c0c0"/>
<rect x="1013" y="827" width="3" height="1" fill="#c0c0c0"/>
<rect x="1019" y="827" width="3" height="1" fill="#c0c0c0"/>
<rect x="1025" y="827" width="3" height="1" fill="#c0c0c0"/>
<rect x="1031" y="827" width="3" height="1" fill="#c0c0c0"/>
<rect x="1037" y="827" width="3" height="1" fill="#c0c0c0"/>
<rect x="1043" y="827" width="3" height="1" fill="#c0c0c0"/>
<rect x="1049" y="827" width="3" height="1" fill="#c0c0c0"/>
<rect x="1055" y="827" width="3" height="1" fill="#c0c0c0"/>
<rect x="1061" y="827" width="3" height="1" fill="#c0c0c0"/>
<rect x="1067" y="827" width="3" height="1" fill="#c0c0c0"/>
<rect x="1073" y="827" width="3" height="1" fill="#c0c0c0"/>
<rect x="1079" y="827" width="3" height="1" fill="#c0c0c0"/>
<rect x="1085" y="827" width="3" height="1" fill="#c0c0c0"/>
<rect x="1091" y="827" width="3" height="1" fill="#c0c0c0"/>
<rect x="1097" y="827" width="3" height="1" fill="#c0c0c0"/>
<rect x="1103" y="827" width="3" height="1" fill="#c0c0c0"/>
<rect x="1109" y="827" width="3" height="1" fill="#c0c0c0"/>
<rect x="1115" y="827" width="3" height="1" fill="#c0c0c0"/>
<rect x="1121" y="827" width="3" height="1" fill="#c0c0c0"/>
<rect x="1127" y="827" width="3" height="1" fill="#c0c0c0"/>
<rect x="1133" y="827" width="3" height="1" fill="#c0c0c0"/>
<rect x="1139" y="827" width="3" height="1" fill="#c0c0c0"/>
<rect x="1145" y="827" width="3" height="1" fill="#c0c0c0"/>
<rect x="1151" y="827" width="3" height="1" fill="#c0c0c0"/>
<rect x="1157" y="827" width="3" height="1" fill="#c0c0c0"/>
<rect x="1163" y="827" width="3" height="1" fill="#c0c0c0"/>
<rect x="1169" y="827" width="3" height="1" fill="#c0c0c0"/>
<rect x="1175" y="827" width="3" height="1" fill="#c0c0c0"/>
<rect x="1181" y="827" width="3" height="1" fill="#c0c0c0"/>
<rect x="1187" y="827" width="3" height="1" fill="#c0c0c0"/>
<rect x="1193" y="827" width="3" height="1" fill="#c0c0c0"/>
<rect x="1199" y="827" width="3" height="1" fill="#c0c0c0"/>
<rect x="1205" y="827" width="3" height="1" fill="#c0c0c0"/>
<rect x="1211" y="827" width="3" height="1" fill="#c0c0c0"/>
<rect x="1217" y="827" width="3" height="1" fill="#c0c0c0"/>
<rect x="1223" y="827" width="3" height="1" fill="#c0c0c0"/>
<rect x="1229" y="827" width="3" height="1" fill="#c0c0c0"/>
<rect x="1235" y="827" width="3" height="1" fill="#c0c0c0"/>
<rect x="1241" y="827" width="3" height="1" fill="#c0c0c0"/>
<rect x="1247" y="827" width="3" height="1" fill="#c0c0c0"/>
<rect x="1253" y="827" width="3" height="1" fill="#c0c0c0"/>
<rect x="1259" y="827" width="3" height="1" fill="#c0c0c0"/>
<rect x="1265" y="827" width="3" height="1" fill="#c0c0c0"/>
<rect x="1271" y="827" width="3" height="1" fill="#c0c0c0"/>
<rect x="1277" y="827" width="3" height="1" fill="#c0c0c0"/>
<rect x="1283" y="827" width="3" height="1" fill="#c0c0c0"/>
<rect x="1289" y="827" width="3" height="1" fill="#c0c0c0"/>
<rect x="1295" y="827" width="3" height="1" fill="#c0c0c0"/>
<rect x="1301" y="827" width="3" height="1" fill="#c0c0c0"/>
<rect x="1307" y="827" width="3" height="1" fill="#c0c0c0"/>
<rect x="1313" y="827" width="3" height="1" fill="#c0c0c0"/>
<rect x="1319" y="827" width="3" height="1" fill="#c0c0c0"/>
<rect x="1325" y="827" width="3" height="1" fill="#c0c0c0"/>
<rect x="1331" y="827" width="3" height="1" fill="#c0c0c0"/>
<rect x="1337" y="827" width="3" height="1" fill="#c0c0c0"/>
<rect x="1343" y="827" width="3" height="1" fill="#c0c0c0"/>
<rect x="1349" y="827" width="3" height="1" fill="#c0c0c0"/>
<rect x="1355" y="827" width="3" height="1" fill="#c0c0c0"/>
<rect x="1361" y="827" width="3" height="1" fill="#c0c0c0"/>
<rect x="1367" y="827" width="3" height="1" fill="#c0c0c0"/>
<rect x="1373" y="827" width="3" height="1" fill="#c0c0c0"/>
<rect x="1379" y="827" width="3" height="1" fill="#c0c0c0"/>
<rect x="1385" y="827" width="3" height="1" fill="#c0c0c0"/>
<rect x="1391" y="827" width="3" height="1" fill="#c0c0c0"/>
<rect x="1397" y="827" width="3" height="1" fill="#c0c0c0"/>
<rect x="1403" y="827" width="3" height="1" fill="#c0c0c0"/>
<rect x="1409" y="827" width="3" height="1" fill="#c0c0c0"/>
<rect x="1415" y="827" width="3" height="1" fill="#c0c0c0"/>
<rect x="1421" y="827" width="3" height="1" fill="#c0c0c0"/>
<rect x="1427" y="827" width="3" height="1" fill="#c0c0c0"/>
<rect x="1433" y="827" width="3" height="1" fill="#c0c0c0"/>
<rect x="1439" y="827" width="3" height="1" fill="#c0c0c0"/>
<rect x="1445" y="827" width="3" height="1" fill="#c0c0c0"/>
<rect x="1451" y="827" width="3" height="1" fill="#c0c0c0"/>
<rect x="1457" y="827" width="3" height="1" fill="#c0c0c0"/>
<rect x="1463" y="827" width="3" height="1" fill="#c0c0c0"/>
<rect x="1469" y="827" width="3" height="1" fill="#c0c0c0"/>
<rect x="1475" y="827" width="3" height="1" fill="#c0c0c0"/>
<rect x="1481" y="827" width="3" height="1" fill="#c0c0c0"/>
<rect x="1487" y="827" width="3" height="1" fill="#c0c0c0"/>
<rect x="1493" y="827" width="3" height="1" fill="#c0c0c0"/>
<rect x="1499" y="827" width="3" height="1" fill="#c0c0c0"/>
<rect x="1505" y="827" width="3" height="1" fill="#c0c0c0"/>
<rect x="1511" y="827" width="3" height="1" fill="#c0c0c0"/>
<rect x="1517" y="827" width="3" height="1" fill="#c0c0c0"/>
<rect x="1523" y="827" width="3" height="1" fill="#c0c0c0"/>
<rect x="1529" y="827" width="3" height="1" fill="#c0c0c0"/>
<rect x="1535" y="827" width="3" height="1" fill="#c0c0c0"/>
<rect x="1541" y="827" width="3" height="1" fill="#c0c0c0"/>
<rect x="1547" y="827" width="3" height="1" fill="#c0c0c0"/>
<rect x="1553" y="827" width="3" height="1" fill="#c0c0c0"/>
<rect x="1559" y="827" width="3" height="1" fill="#c0c0c0"/>
<rect x="1565" y="827" width="3" height="1" fill="#c0c0c0"/>
<rect x="1571" y="827" width="3" height="1" fill="#c0c0c0"/>
<rect x="1577" y="827" width="3" height="1" fill="#c0c0c0"/>
<rect x="1583" y="827" width="3" height="1" fill="#c0c0c0"/>
<rect x="1589" y="827" width="3" height="1" fill="#c0c0c0"/>
<rect x="1595" y="827" width="3" height="1" fill="#c0c0c0"/>
<rect x="1601" y="827" width="3" height="1" fill="#c0c0c0"/>
<rect x="1607" y="827" width="3" height="1" fill="#c0c0c0"/>
<rect x="1613" y="827" width="3" height="1" fill="#c0c0c0"/>
<rect x="1619" y="827" width="3" height="1" fill="#c0c0c0"/>
<rect x="1625" y="827" width="3" height="1" fill="#c0c0c0"/>
<rect x="1631" y="827" width="3" height="1" fill="#c0c0c0"/>
<rect x="1637" y="827" width="3" height="1" fill="#c0c0c0"/>
<rect x="1643" y="827" width="3" height="1" fill="#c0c0c0"/>
<rect x="1649" y="827" width="3" height="1" fill="#c0c0c0"/>
<rect x="1655" y="827" width="3" height="1" fill="#c0c0c0"/>
<rect x="1661" y="827" width="3" height="1" fill="#c0c0c0"/>
<rect x="1667" y="827" width="3" height="1" fill="#c0c0c0"/>
<rect x="1673" y="827" width="3" height="1" fill="#c0c0c0"/>
<rect x="1679" y="827" width="3" height="1" fill="#c0c0c0"/>
<rect x="1685" y="827" width="3" height="1" fill="#c0c0c0"/>
<polyline points="4.0,788.8 12.0,791.8 20.0,798.1 28.0,796.8 36.0,796.8 44.0,802.7 52.0,798.6 60.0,792.4 68.0,788.8 76.0,788.8 84.0,785.8 92.0,782.0 100.0,773.6 108.0,775.7 116.0,794.7 124.0,804.9 132.0,803.6 140.0,797.7 148.0,793.8 156.0,793.8 164.0,795.0 172.0,799.0 180.0,797.2 188.0,791.1 196.0,792.0 204.0,792.0 212.0,829.6 220.0,831.7 228.0,831.7 236.0,829.9 244.0,835.6 252.0,841.5 260.0,837.6 268.0,826.3 276.0,824.5 284.0,830.8 292.0,812.6 300.0,810.9 308.0,831.9 316.0,834.9 324.0,835.9 332.0,840.6 340.0,825.8 348.0,827.4 356.0,828.8 364.0,826.8 372.0,826.8 380.0,828.8 388.0,830.4 396.0,843.4 404.0,847.5 412.0,840.6 420.0,841.6 428.0,843.6 436.0,821.1 444.0,822.7 452.0,816.0 460.0,816.0 468.0,816.0 476.0,816.0 484.0,818.7 492.0,819.7 500.0,817.0 508.0,825.8 516.0,827.2 524.0,823.1 532.0,823.7 540.0,820.7 548.0,815.0 556.0,818.0 564.0,820.7 572.0,818.7 580.0,813.0 588.0,817.6 596.0,815.0 604.0,819.7 612.0,818.7 620.0,817.0 628.0,819.7 636.0,819.7 644.0,802.4 652.0,798.8 660.0,787.2 668.0,784.8 676.0,775.0 684.0,771.0 692.0,771.0 700.0,761.4 708.0,757.8 716.0,757.8 724.0,774.0 732.0,773.0 740.0,767.9 748.0,755.7 756.0,755.7 764.0,756.7 772.0,754.7 780.0,757.8 788.0,772.0 796.0,767.5 804.0,777.0 812.0,776.0 820.0,779.1 828.0,774.0 836.0,794.7 844.0,796.3 852.0,809.9 860.0,805.1 868.0,806.1 876.0,807.9 884.0,807.9 892.0,806.9 900.0,805.9 908.0,804.0 916.0,802.8 924.0,813.0 932.0,803.0 940.0,799.8 948.0,803.8 956.0,807.9 964.0,806.9 972.0,810.9 980.0,805.1 988.0,796.9 996.0,800.0 1004.0,793.3 1012.0,778.1 1020.0,779.1 1028.0,788.6 1036.0,789.8 1044.0,788.2 1052.0,786.8 1060.0,788.2 1068.0,793.7 1076.0,794.9 1084.0,784.1 1092.0,778.1 1100.0,775.0 1108.0,772.6 1116.0,782.5 1124.0,784.8 1132.0,786.8 1140.0,822.7 1148.0,815.0 1156.0,816.0 1164.0,819.1 1172.0,816.0 1180.0,813.0 1188.0,797.3 1196.0,794.3 1204.0,792.9 1212.0,788.8 1220.0,795.3 1228.0,803.4 1236.0,823.7 1244.0,814.0 1252.0,816.6 1260.0,818.7 1268.0,828.2 1276.0,831.9 1284.0,828.2 1292.0,831.8 1300.0,831.8 1308.0,824.2 1316.0,808.8 1324.0,810.8 1332.0,795.2 1340.0,787.9 1348.0,786.8 1356.0,784.9 1364.0,786.8 1372.0,787.9 1380.0,778.4 1388.0,773.9 1396.0,778.4 1404.0,784.9 1412.0,783.8 1420.0,779.8 1428.0,788.5 1436.0,792.6 1444.0,783.8 1452.0,783.8 1460.0,786.9 1468.0,777.3 1476.0,775.3 1484.0,770.6 1492.0,766.8 1500.0,765.8 1508.0,773.7 1516.0,769.6 1524.0,781.8 1532.0,774.7 1540.0,789.9 1548.0,788.9 1556.0,795.6 1564.0,797.0 1572.0,799.7 1580.0,799.7 1588.0,811.9 1596.0,807.8 1604.0,808.8 1612.0,808.8 1620.0,807.8 1628.0,789.9 1636.0,794.0 1644.0,792.6 1652.0,792.6 1660.0,792.6 1668.0,790.9" fill="none" stroke="#1e90ff" stroke-width="1" />
<text transform="translate(1693,730) scale(0.9620,1)" fill="#000" stroke="#000" stroke-width="0.12" font-size="9.7" text-anchor="start" >100</text>
<text transform="translate(1693,770) scale(0.9620,1)" fill="#000" stroke="#000" stroke-width="0.12" font-size="9.7" text-anchor="start" >70</text>
<text transform="translate(1693,831) scale(0.9620,1)" fill="#000" stroke="#000" stroke-width="0.12" font-size="9.7" text-anchor="start" >30</text>
<text transform="translate(1693,870) scale(0.9620,1)" fill="#000" stroke="#000" stroke-width="0.12" font-size="9.7" text-anchor="start" >0</text>
<rect x="1690" y="721" width="2" height="1" fill="#000"/>
<rect x="1690" y="766" width="2" height="1" fill="#000"/>
<rect x="1690" y="827" width="2" height="1" fill="#000"/>
<rect x="1690" y="872" width="2" height="1" fill="#000"/>
<rect x="4" y="874" width="1" height="3" fill="#000"/>
<text transform="translate(3,886) scale(0.9570,1)" fill="#000" stroke="#000" stroke-width="0.12" font-size="9.7" text-anchor="start" >27 Aug 2020</text>
<rect x="68" y="874" width="1" height="3" fill="#000"/>
<text transform="translate(67,886) scale(0.9570,1)" fill="#000" stroke="#000" stroke-width="0.12" font-size="9.7" text-anchor="start" >28 Aug 16:00</text>
<rect x="132" y="874" width="1" height="3" fill="#000"/>
<text transform="translate(131,886) scale(0.9570,1)" fill="#000" stroke="#000" stroke-width="0.12" font-size="9.7" text-anchor="start" >31 Aug 20:00</text>
<rect x="196" y="874" width="1" height="3" fill="#000"/>
<text transform="translate(195,886) scale(0.9570,1)" fill="#000" stroke="#000" stroke-width="0.12" font-size="9.7" text-anchor="start" >2 Sep 04:00</text>
<rect x="260" y="874" width="1" height="3" fill="#000"/>
<text transform="translate(259,886) scale(0.9570,1)" fill="#000" stroke="#000" stroke-width="0.12" font-size="9.7" text-anchor="start" >3 Sep 12:00</text>
<rect x="324" y="874" width="1" height="3" fill="#000"/>
<text transform="translate(323,886) scale(0.9570,1)" fill="#000" stroke="#000" stroke-width="0.12" font-size="9.7" text-anchor="start" >4 Sep 20:00</text>
<rect x="388" y="874" width="1" height="3" fill="#000"/>
<text transform="translate(387,886) scale(0.9570,1)" fill="#000" stroke="#000" stroke-width="0.12" font-size="9.7" text-anchor="start" >8 Sep 04:00</text>
<rect x="452" y="874" width="1" height="3" fill="#000"/>
<text transform="translate(451,886) scale(0.9570,1)" fill="#000" stroke="#000" stroke-width="0.12" font-size="9.7" text-anchor="start" >9 Sep 12:00</text>
<rect x="516" y="874" width="1" height="3" fill="#000"/>
<text transform="translate(515,886) scale(0.9570,1)" fill="#000" stroke="#000" stroke-width="0.12" font-size="9.7" text-anchor="start" >10 Sep 20:00</text>
<rect x="580" y="874" width="1" height="3" fill="#000"/>
<text transform="translate(579,886) scale(0.9570,1)" fill="#000" stroke="#000" stroke-width="0.12" font-size="9.7" text-anchor="start" >14 Sep 00:00</text>
<rect x="644" y="874" width="1" height="3" fill="#000"/>
<text transform="translate(643,886) scale(0.9570,1)" fill="#000" stroke="#000" stroke-width="0.12" font-size="9.7" text-anchor="start" >15 Sep 08:00</text>
<rect x="708" y="874" width="1" height="3" fill="#000"/>
<text transform="translate(707,886) scale(0.9570,1)" fill="#000" stroke="#000" stroke-width="0.12" font-size="9.7" text-anchor="start" >16 Sep 16:00</text>
<rect x="772" y="874" width="1" height="3" fill="#000"/>
<text transform="translate(771,886) scale(0.9570,1)" fill="#000" stroke="#000" stroke-width="0.12" font-size="9.7" text-anchor="start" >18 Sep 00:00</text>
<rect x="836" y="874" width="1" height="3" fill="#000"/>
<text transform="translate(835,886) scale(0.9570,1)" fill="#000" stroke="#000" stroke-width="0.12" font-size="9.7" text-anchor="start" >21 Sep 04:00</text>
<rect x="900" y="874" width="1" height="3" fill="#000"/>
<text transform="translate(899,886) scale(0.9570,1)" fill="#000" stroke="#000" stroke-width="0.12" font-size="9.7" text-anchor="start" >22 Sep 12:00</text>
<rect x="964" y="874" width="1" height="3" fill="#000"/>
<text transform="translate(963,886) scale(0.9570,1)" fill="#000" stroke="#000" stroke-width="0.12" font-size="9.7" text-anchor="start" >23 Sep 20:00</text>
<rect x="1028" y="874" width="1" height="3" fill="#000"/>
<text transform="translate(1027,886) scale(0.9570,1)" fill="#000" stroke="#000" stroke-width="0.12" font-size="9.7" text-anchor="start" >25 Sep 08:00</text>
<rect x="1092" y="874" width="1" height="3" fill="#000"/>
<text transform="translate(1091,886) scale(0.9570,1)" fill="#000" stroke="#000" stroke-width="0.12" font-size="9.7" text-anchor="start" >28 Sep 12:00</text>
<rect x="1156" y="874" width="1" height="3" fill="#000"/>
<text transform="translate(1155,886) scale(0.9570,1)" fill="#000" stroke="#000" stroke-width="0.12" font-size="9.7" text-anchor="start" >29 Sep 20:00</text>
<rect x="1220" y="874" width="1" height="3" fill="#000"/>
<text transform="translate(1219,886) scale(0.9570,1)" fill="#000" stroke="#000" stroke-width="0.12" font-size="9.7" text-anchor="start" >1 Oct 04:00</text>
<rect x="1284" y="874" width="1" height="3" fill="#000"/>
<text transform="translate(1283,886) scale(0.9570,1)" fill="#000" stroke="#000" stroke-width="0.12" font-size="9.7" text-anchor="start" >2 Oct 12:00</text>
<rect x="1348" y="874" width="1" height="3" fill="#000"/>
<text transform="translate(1347,886) scale(0.9570,1)" fill="#000" stroke="#000" stroke-width="0.12" font-size="9.7" text-anchor="start" >5 Oct 16:00</text>
<rect x="1412" y="874" width="1" height="3" fill="#000"/>
<text transform="translate(1411,886) scale(0.9570,1)" fill="#000" stroke="#000" stroke-width="0.12" font-size="9.7" text-anchor="start" >7 Oct 00:00</text>
<rect x="1476" y="874" width="1" height="3" fill="#000"/>
<text transform="translate(1475,886) scale(0.9570,1)" fill="#000" stroke="#000" stroke-width="0.12" font-size="9.7" text-anchor="start" >8 Oct 08:00</text>
<rect x="1540" y="874" width="1" height="3" fill="#000"/>
<text transform="translate(1539,886) scale(0.9570,1)" fill="#000" stroke="#000" stroke-width="0.12" font-size="9.7" text-anchor="start" >9 Oct 16:00</text>
<rect x="1604" y="874" width="1" height="3" fill="#000"/>
<text transform="translate(1603,886) scale(0.9570,1)" fill="#000" stroke="#000" stroke-width="0.12" font-size="9.7" text-anchor="start" >12 Oct 20:00</text>
<rect x="1668" y="874" width="1" height="3" fill="#000"/>
<text transform="translate(1667,886) scale(0.9570,1)" fill="#000" stroke="#000" stroke-width="0.12" font-size="9.7" text-anchor="start" >14 Oct 00:00</text></svg></body></html>
